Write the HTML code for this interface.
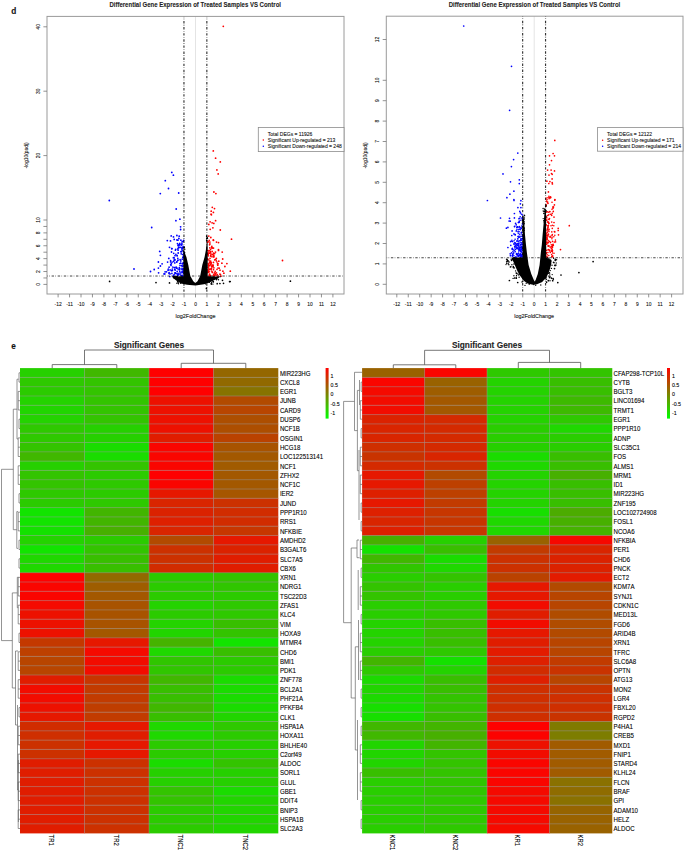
<!DOCTYPE html><html><head><meta charset="utf-8"><title>Figure</title>
<style>html,body{margin:0;padding:0;background:#fff;width:685px;height:852px;overflow:hidden}svg{display:block}text{font-family:"Liberation Sans",sans-serif}</style>
</head><body>
<svg width="685" height="852" viewBox="0 0 685 852">
<rect x="0" y="0" width="685" height="852" fill="#fff"/>
<text transform="translate(11.20,14.10) scale(0.9,1)" font-size="9.2" font-weight="bold" fill="#111" stroke="#111" stroke-width="0.18" stroke-opacity="0.6">d</text>
<text transform="translate(11.30,349.20) scale(0.9,1)" font-size="9.2" font-weight="bold" fill="#111" stroke="#111" stroke-width="0.18" stroke-opacity="0.6">e</text>
<g>
<text transform="translate(195.20,6.70) scale(0.835,1)" font-size="7.2" font-weight="bold" text-anchor="middle" fill="#1e1e1e" stroke="#1e1e1e" stroke-width="0.18" stroke-opacity="0.6">Differential Gene Expression of Treated Samples VS Control</text>
<line x1="195.5" y1="16.4" x2="195.5" y2="294" stroke="#e4e4e4" stroke-width="1"/>
<circle cx="176.9" cy="261.8" r="0.85" fill="#0000ff"/>
<circle cx="177.1" cy="255.7" r="0.85" fill="#0000ff"/>
<circle cx="184.3" cy="276.4" r="0.85" fill="#0000ff"/>
<circle cx="178.1" cy="250.2" r="0.85" fill="#0000ff"/>
<circle cx="171.5" cy="270.7" r="0.85" fill="#0000ff"/>
<circle cx="183.4" cy="270.7" r="0.85" fill="#0000ff"/>
<circle cx="183.9" cy="253.3" r="0.85" fill="#0000ff"/>
<circle cx="176.4" cy="268.1" r="0.85" fill="#0000ff"/>
<circle cx="183.4" cy="256.7" r="0.85" fill="#0000ff"/>
<circle cx="181.5" cy="245.1" r="0.85" fill="#0000ff"/>
<circle cx="182.3" cy="269.6" r="0.85" fill="#0000ff"/>
<circle cx="175.9" cy="254.3" r="0.85" fill="#0000ff"/>
<circle cx="175.7" cy="249.3" r="0.85" fill="#0000ff"/>
<circle cx="169.0" cy="273.4" r="0.85" fill="#0000ff"/>
<circle cx="182.0" cy="275.8" r="0.85" fill="#0000ff"/>
<circle cx="177.7" cy="260.6" r="0.85" fill="#0000ff"/>
<circle cx="177.9" cy="275.2" r="0.85" fill="#0000ff"/>
<circle cx="169.8" cy="276.6" r="0.85" fill="#0000ff"/>
<circle cx="182.2" cy="271.6" r="0.85" fill="#0000ff"/>
<circle cx="179.8" cy="271.3" r="0.85" fill="#0000ff"/>
<circle cx="184.2" cy="272.0" r="0.85" fill="#0000ff"/>
<circle cx="172.4" cy="270.4" r="0.85" fill="#0000ff"/>
<circle cx="182.3" cy="263.5" r="0.85" fill="#0000ff"/>
<circle cx="182.5" cy="272.0" r="0.85" fill="#0000ff"/>
<circle cx="175.4" cy="250.2" r="0.85" fill="#0000ff"/>
<circle cx="178.1" cy="274.7" r="0.85" fill="#0000ff"/>
<circle cx="183.9" cy="255.5" r="0.85" fill="#0000ff"/>
<circle cx="178.1" cy="260.0" r="0.85" fill="#0000ff"/>
<circle cx="178.2" cy="244.9" r="0.85" fill="#0000ff"/>
<circle cx="176.1" cy="267.2" r="0.85" fill="#0000ff"/>
<circle cx="179.9" cy="273.0" r="0.85" fill="#0000ff"/>
<circle cx="182.9" cy="265.9" r="0.85" fill="#0000ff"/>
<circle cx="180.0" cy="274.4" r="0.85" fill="#0000ff"/>
<circle cx="174.7" cy="267.7" r="0.85" fill="#0000ff"/>
<circle cx="180.0" cy="244.7" r="0.85" fill="#0000ff"/>
<circle cx="179.8" cy="243.4" r="0.85" fill="#0000ff"/>
<circle cx="177.7" cy="274.5" r="0.85" fill="#0000ff"/>
<circle cx="183.2" cy="241.3" r="0.85" fill="#0000ff"/>
<circle cx="181.0" cy="272.8" r="0.85" fill="#0000ff"/>
<circle cx="181.1" cy="275.4" r="0.85" fill="#0000ff"/>
<circle cx="173.7" cy="261.4" r="0.85" fill="#0000ff"/>
<circle cx="183.6" cy="257.9" r="0.85" fill="#0000ff"/>
<circle cx="180.1" cy="259.7" r="0.85" fill="#0000ff"/>
<circle cx="176.2" cy="273.7" r="0.85" fill="#0000ff"/>
<circle cx="170.6" cy="261.9" r="0.85" fill="#0000ff"/>
<circle cx="182.2" cy="250.2" r="0.85" fill="#0000ff"/>
<circle cx="181.9" cy="243.2" r="0.85" fill="#0000ff"/>
<circle cx="178.5" cy="248.0" r="0.85" fill="#0000ff"/>
<circle cx="182.4" cy="275.4" r="0.85" fill="#0000ff"/>
<circle cx="174.0" cy="260.0" r="0.85" fill="#0000ff"/>
<circle cx="184.1" cy="273.8" r="0.85" fill="#0000ff"/>
<circle cx="179.6" cy="269.4" r="0.85" fill="#0000ff"/>
<circle cx="182.1" cy="272.0" r="0.85" fill="#0000ff"/>
<circle cx="179.3" cy="267.5" r="0.85" fill="#0000ff"/>
<circle cx="176.6" cy="262.1" r="0.85" fill="#0000ff"/>
<circle cx="183.1" cy="263.7" r="0.85" fill="#0000ff"/>
<circle cx="164.0" cy="273.9" r="0.85" fill="#0000ff"/>
<circle cx="173.2" cy="275.6" r="0.85" fill="#0000ff"/>
<circle cx="177.2" cy="255.6" r="0.85" fill="#0000ff"/>
<circle cx="178.6" cy="247.2" r="0.85" fill="#0000ff"/>
<circle cx="182.0" cy="268.3" r="0.85" fill="#0000ff"/>
<circle cx="179.0" cy="245.3" r="0.85" fill="#0000ff"/>
<circle cx="183.9" cy="273.3" r="0.85" fill="#0000ff"/>
<circle cx="172.1" cy="262.1" r="0.85" fill="#0000ff"/>
<circle cx="176.3" cy="267.7" r="0.85" fill="#0000ff"/>
<circle cx="182.6" cy="254.5" r="0.85" fill="#0000ff"/>
<circle cx="165.1" cy="271.8" r="0.85" fill="#0000ff"/>
<circle cx="177.8" cy="248.9" r="0.85" fill="#0000ff"/>
<circle cx="172.3" cy="269.0" r="0.85" fill="#0000ff"/>
<circle cx="182.1" cy="247.6" r="0.85" fill="#0000ff"/>
<circle cx="181.8" cy="248.9" r="0.85" fill="#0000ff"/>
<circle cx="174.1" cy="267.5" r="0.85" fill="#0000ff"/>
<circle cx="178.1" cy="273.3" r="0.85" fill="#0000ff"/>
<circle cx="183.4" cy="262.7" r="0.85" fill="#0000ff"/>
<circle cx="178.1" cy="269.0" r="0.85" fill="#0000ff"/>
<circle cx="184.1" cy="252.5" r="0.85" fill="#0000ff"/>
<circle cx="183.7" cy="240.3" r="0.85" fill="#0000ff"/>
<circle cx="175.4" cy="273.1" r="0.85" fill="#0000ff"/>
<circle cx="174.7" cy="269.5" r="0.85" fill="#0000ff"/>
<circle cx="183.2" cy="268.9" r="0.85" fill="#0000ff"/>
<circle cx="174.2" cy="257.9" r="0.85" fill="#0000ff"/>
<circle cx="184.1" cy="263.4" r="0.85" fill="#0000ff"/>
<circle cx="180.0" cy="265.5" r="0.85" fill="#0000ff"/>
<circle cx="176.6" cy="276.3" r="0.85" fill="#0000ff"/>
<circle cx="171.9" cy="273.4" r="0.85" fill="#0000ff"/>
<circle cx="170.7" cy="264.5" r="0.85" fill="#0000ff"/>
<circle cx="180.7" cy="263.2" r="0.85" fill="#0000ff"/>
<circle cx="171.0" cy="265.4" r="0.85" fill="#0000ff"/>
<circle cx="175.0" cy="255.7" r="0.85" fill="#0000ff"/>
<circle cx="184.1" cy="268.9" r="0.85" fill="#0000ff"/>
<circle cx="171.4" cy="263.7" r="0.85" fill="#0000ff"/>
<circle cx="170.1" cy="269.9" r="0.85" fill="#0000ff"/>
<circle cx="180.8" cy="260.9" r="0.85" fill="#0000ff"/>
<circle cx="179.3" cy="269.7" r="0.85" fill="#0000ff"/>
<circle cx="179.8" cy="263.5" r="0.85" fill="#0000ff"/>
<circle cx="182.2" cy="259.2" r="0.85" fill="#0000ff"/>
<circle cx="170.0" cy="273.9" r="0.85" fill="#0000ff"/>
<circle cx="174.9" cy="259.6" r="0.85" fill="#0000ff"/>
<circle cx="182.4" cy="276.3" r="0.85" fill="#0000ff"/>
<circle cx="169.1" cy="272.6" r="0.85" fill="#0000ff"/>
<circle cx="175.2" cy="270.1" r="0.85" fill="#0000ff"/>
<circle cx="181.2" cy="253.8" r="0.85" fill="#0000ff"/>
<circle cx="175.1" cy="272.9" r="0.85" fill="#0000ff"/>
<circle cx="182.2" cy="266.3" r="0.85" fill="#0000ff"/>
<circle cx="173.7" cy="253.3" r="0.85" fill="#0000ff"/>
<circle cx="177.8" cy="258.3" r="0.85" fill="#0000ff"/>
<circle cx="177.2" cy="271.4" r="0.85" fill="#0000ff"/>
<circle cx="175.1" cy="272.9" r="0.85" fill="#0000ff"/>
<circle cx="182.1" cy="269.5" r="0.85" fill="#0000ff"/>
<circle cx="170.6" cy="260.6" r="0.85" fill="#0000ff"/>
<circle cx="182.7" cy="272.6" r="0.85" fill="#0000ff"/>
<circle cx="180.8" cy="251.7" r="0.85" fill="#0000ff"/>
<circle cx="181.5" cy="265.5" r="0.85" fill="#0000ff"/>
<circle cx="177.8" cy="274.2" r="0.85" fill="#0000ff"/>
<circle cx="178.1" cy="245.6" r="0.85" fill="#0000ff"/>
<circle cx="182.7" cy="263.7" r="0.85" fill="#0000ff"/>
<circle cx="168.3" cy="269.0" r="0.85" fill="#0000ff"/>
<circle cx="169.1" cy="267.2" r="0.85" fill="#0000ff"/>
<circle cx="182.1" cy="276.1" r="0.85" fill="#0000ff"/>
<circle cx="172.8" cy="267.0" r="0.85" fill="#0000ff"/>
<circle cx="182.8" cy="257.3" r="0.85" fill="#0000ff"/>
<circle cx="174.8" cy="262.9" r="0.85" fill="#0000ff"/>
<circle cx="177.0" cy="268.2" r="0.85" fill="#0000ff"/>
<circle cx="174.1" cy="274.7" r="0.85" fill="#0000ff"/>
<circle cx="179.8" cy="268.5" r="0.85" fill="#0000ff"/>
<circle cx="209.9" cy="243.9" r="0.85" fill="#ff0000"/>
<circle cx="211.2" cy="268.8" r="0.85" fill="#ff0000"/>
<circle cx="216.4" cy="258.3" r="0.85" fill="#ff0000"/>
<circle cx="209.8" cy="247.8" r="0.85" fill="#ff0000"/>
<circle cx="208.2" cy="253.9" r="0.85" fill="#ff0000"/>
<circle cx="210.5" cy="275.5" r="0.85" fill="#ff0000"/>
<circle cx="209.4" cy="253.2" r="0.85" fill="#ff0000"/>
<circle cx="210.5" cy="251.4" r="0.85" fill="#ff0000"/>
<circle cx="210.5" cy="256.1" r="0.85" fill="#ff0000"/>
<circle cx="208.4" cy="264.7" r="0.85" fill="#ff0000"/>
<circle cx="209.6" cy="274.2" r="0.85" fill="#ff0000"/>
<circle cx="207.6" cy="250.4" r="0.85" fill="#ff0000"/>
<circle cx="208.5" cy="272.1" r="0.85" fill="#ff0000"/>
<circle cx="209.5" cy="261.0" r="0.85" fill="#ff0000"/>
<circle cx="209.3" cy="265.3" r="0.85" fill="#ff0000"/>
<circle cx="218.0" cy="263.7" r="0.85" fill="#ff0000"/>
<circle cx="210.6" cy="249.3" r="0.85" fill="#ff0000"/>
<circle cx="210.7" cy="262.4" r="0.85" fill="#ff0000"/>
<circle cx="213.6" cy="253.1" r="0.85" fill="#ff0000"/>
<circle cx="207.6" cy="253.1" r="0.85" fill="#ff0000"/>
<circle cx="208.2" cy="253.6" r="0.85" fill="#ff0000"/>
<circle cx="212.1" cy="247.8" r="0.85" fill="#ff0000"/>
<circle cx="212.4" cy="272.4" r="0.85" fill="#ff0000"/>
<circle cx="211.1" cy="263.8" r="0.85" fill="#ff0000"/>
<circle cx="213.3" cy="254.0" r="0.85" fill="#ff0000"/>
<circle cx="210.7" cy="264.3" r="0.85" fill="#ff0000"/>
<circle cx="207.3" cy="259.0" r="0.85" fill="#ff0000"/>
<circle cx="212.4" cy="272.2" r="0.85" fill="#ff0000"/>
<circle cx="209.2" cy="240.4" r="0.85" fill="#ff0000"/>
<circle cx="208.8" cy="265.2" r="0.85" fill="#ff0000"/>
<circle cx="213.9" cy="267.8" r="0.85" fill="#ff0000"/>
<circle cx="211.0" cy="265.6" r="0.85" fill="#ff0000"/>
<circle cx="213.5" cy="262.4" r="0.85" fill="#ff0000"/>
<circle cx="221.0" cy="276.2" r="0.85" fill="#ff0000"/>
<circle cx="209.1" cy="250.7" r="0.85" fill="#ff0000"/>
<circle cx="209.5" cy="244.8" r="0.85" fill="#ff0000"/>
<circle cx="209.1" cy="250.5" r="0.85" fill="#ff0000"/>
<circle cx="212.7" cy="248.0" r="0.85" fill="#ff0000"/>
<circle cx="208.2" cy="272.5" r="0.85" fill="#ff0000"/>
<circle cx="217.0" cy="262.0" r="0.85" fill="#ff0000"/>
<circle cx="213.2" cy="265.2" r="0.85" fill="#ff0000"/>
<circle cx="210.6" cy="253.0" r="0.85" fill="#ff0000"/>
<circle cx="217.0" cy="269.3" r="0.85" fill="#ff0000"/>
<circle cx="212.2" cy="266.6" r="0.85" fill="#ff0000"/>
<circle cx="209.9" cy="242.1" r="0.85" fill="#ff0000"/>
<circle cx="212.4" cy="254.6" r="0.85" fill="#ff0000"/>
<circle cx="214.7" cy="253.6" r="0.85" fill="#ff0000"/>
<circle cx="215.2" cy="274.8" r="0.85" fill="#ff0000"/>
<circle cx="208.9" cy="276.1" r="0.85" fill="#ff0000"/>
<circle cx="217.3" cy="274.6" r="0.85" fill="#ff0000"/>
<circle cx="209.5" cy="262.5" r="0.85" fill="#ff0000"/>
<circle cx="214.7" cy="259.9" r="0.85" fill="#ff0000"/>
<circle cx="210.7" cy="261.2" r="0.85" fill="#ff0000"/>
<circle cx="218.1" cy="276.2" r="0.85" fill="#ff0000"/>
<circle cx="208.3" cy="271.6" r="0.85" fill="#ff0000"/>
<circle cx="211.0" cy="269.2" r="0.85" fill="#ff0000"/>
<circle cx="215.2" cy="271.4" r="0.85" fill="#ff0000"/>
<circle cx="211.4" cy="262.8" r="0.85" fill="#ff0000"/>
<circle cx="220.0" cy="270.2" r="0.85" fill="#ff0000"/>
<circle cx="216.4" cy="272.8" r="0.85" fill="#ff0000"/>
<circle cx="210.2" cy="276.4" r="0.85" fill="#ff0000"/>
<circle cx="213.5" cy="269.7" r="0.85" fill="#ff0000"/>
<circle cx="212.4" cy="265.2" r="0.85" fill="#ff0000"/>
<circle cx="211.5" cy="271.0" r="0.85" fill="#ff0000"/>
<circle cx="214.0" cy="274.0" r="0.85" fill="#ff0000"/>
<circle cx="208.2" cy="254.2" r="0.85" fill="#ff0000"/>
<circle cx="213.8" cy="274.8" r="0.85" fill="#ff0000"/>
<circle cx="217.5" cy="263.9" r="0.85" fill="#ff0000"/>
<circle cx="211.0" cy="254.2" r="0.85" fill="#ff0000"/>
<circle cx="208.6" cy="252.0" r="0.85" fill="#ff0000"/>
<circle cx="220.5" cy="274.7" r="0.85" fill="#ff0000"/>
<circle cx="208.3" cy="255.8" r="0.85" fill="#ff0000"/>
<circle cx="210.4" cy="252.3" r="0.85" fill="#ff0000"/>
<circle cx="213.1" cy="266.6" r="0.85" fill="#ff0000"/>
<circle cx="209.8" cy="263.0" r="0.85" fill="#ff0000"/>
<circle cx="218.0" cy="268.0" r="0.85" fill="#ff0000"/>
<circle cx="208.9" cy="268.5" r="0.85" fill="#ff0000"/>
<circle cx="211.6" cy="268.0" r="0.85" fill="#ff0000"/>
<circle cx="209.6" cy="275.5" r="0.85" fill="#ff0000"/>
<circle cx="209.6" cy="269.6" r="0.85" fill="#ff0000"/>
<circle cx="207.7" cy="242.3" r="0.85" fill="#ff0000"/>
<circle cx="208.0" cy="254.1" r="0.85" fill="#ff0000"/>
<circle cx="214.7" cy="272.9" r="0.85" fill="#ff0000"/>
<circle cx="211.7" cy="266.5" r="0.85" fill="#ff0000"/>
<circle cx="208.0" cy="270.3" r="0.85" fill="#ff0000"/>
<circle cx="211.9" cy="256.7" r="0.85" fill="#ff0000"/>
<circle cx="213.3" cy="275.3" r="0.85" fill="#ff0000"/>
<circle cx="216.0" cy="275.1" r="0.85" fill="#ff0000"/>
<circle cx="216.3" cy="260.8" r="0.85" fill="#ff0000"/>
<circle cx="208.1" cy="241.6" r="0.85" fill="#ff0000"/>
<circle cx="211.3" cy="268.7" r="0.85" fill="#ff0000"/>
<circle cx="208.1" cy="267.5" r="0.85" fill="#ff0000"/>
<circle cx="215.5" cy="273.6" r="0.85" fill="#ff0000"/>
<circle cx="209.1" cy="271.7" r="0.85" fill="#ff0000"/>
<circle cx="207.8" cy="254.7" r="0.85" fill="#ff0000"/>
<circle cx="208.8" cy="266.7" r="0.85" fill="#ff0000"/>
<circle cx="214.4" cy="275.9" r="0.85" fill="#ff0000"/>
<circle cx="208.2" cy="269.8" r="0.85" fill="#ff0000"/>
<circle cx="214.0" cy="256.8" r="0.85" fill="#ff0000"/>
<circle cx="215.7" cy="259.3" r="0.85" fill="#ff0000"/>
<circle cx="209.5" cy="274.7" r="0.85" fill="#ff0000"/>
<circle cx="207.6" cy="258.7" r="0.85" fill="#ff0000"/>
<circle cx="211.6" cy="247.8" r="0.85" fill="#ff0000"/>
<circle cx="210.7" cy="255.5" r="0.85" fill="#ff0000"/>
<circle cx="208.8" cy="259.8" r="0.85" fill="#ff0000"/>
<circle cx="208.2" cy="263.7" r="0.85" fill="#ff0000"/>
<circle cx="210.0" cy="258.3" r="0.85" fill="#ff0000"/>
<circle cx="213.4" cy="256.8" r="0.85" fill="#ff0000"/>
<circle cx="219.9" cy="274.1" r="0.85" fill="#ff0000"/>
<circle cx="212.2" cy="251.4" r="0.85" fill="#ff0000"/>
<polygon points="183.4,252.5 184.6,252.6 186.4,257.0 188.3,265.0 190.3,275.9 193.3,281.3 195.3,283.0 197.5,281.3 200.2,275.9 202.3,265.0 204.6,257.0 205.9,250.0 206.6,243.0 207.6,243.0 207.7,276.3 213.0,276.4 219.5,276.6 218.5,278.2 214.0,280.3 209.0,282.8 204.0,284.3 195.5,285.4 187.0,284.8 181.0,283.6 176.2,280.6 172.8,277.8 172.6,276.4 183.4,276.3" fill="#000"/>
<circle cx="176.6" cy="276.6" r="0.7" fill="#000"/>
<circle cx="175.5" cy="277.5" r="0.7" fill="#000"/>
<circle cx="174.0" cy="278.0" r="0.7" fill="#000"/>
<circle cx="174.7" cy="276.6" r="0.7" fill="#000"/>
<circle cx="177.3" cy="276.4" r="0.7" fill="#000"/>
<circle cx="172.9" cy="276.6" r="0.7" fill="#000"/>
<circle cx="174.9" cy="278.3" r="0.7" fill="#000"/>
<circle cx="174.0" cy="276.6" r="0.7" fill="#000"/>
<circle cx="175.9" cy="276.6" r="0.7" fill="#000"/>
<circle cx="175.1" cy="276.6" r="0.7" fill="#000"/>
<circle cx="177.3" cy="276.4" r="0.7" fill="#000"/>
<circle cx="173.4" cy="276.8" r="0.7" fill="#000"/>
<circle cx="178.3" cy="282.9" r="0.7" fill="#000"/>
<circle cx="180.7" cy="283.2" r="0.7" fill="#000"/>
<circle cx="179.8" cy="279.9" r="0.7" fill="#000"/>
<circle cx="181.3" cy="280.6" r="0.7" fill="#000"/>
<circle cx="177.5" cy="281.4" r="0.7" fill="#000"/>
<circle cx="182.9" cy="281.2" r="0.7" fill="#000"/>
<circle cx="178.5" cy="283.8" r="0.7" fill="#000"/>
<circle cx="182.9" cy="281.3" r="0.7" fill="#000"/>
<circle cx="176.9" cy="283.2" r="0.7" fill="#000"/>
<circle cx="181.5" cy="281.1" r="0.7" fill="#000"/>
<circle cx="181.5" cy="281.3" r="0.7" fill="#000"/>
<circle cx="178.0" cy="282.3" r="0.7" fill="#000"/>
<circle cx="211.7" cy="282.5" r="0.7" fill="#000"/>
<circle cx="212.4" cy="281.0" r="0.7" fill="#000"/>
<circle cx="209.5" cy="282.2" r="0.7" fill="#000"/>
<circle cx="205.6" cy="283.9" r="0.7" fill="#000"/>
<circle cx="206.3" cy="281.7" r="0.7" fill="#000"/>
<circle cx="212.9" cy="284.1" r="0.7" fill="#000"/>
<circle cx="213.4" cy="282.1" r="0.7" fill="#000"/>
<circle cx="213.4" cy="281.5" r="0.7" fill="#000"/>
<circle cx="211.4" cy="284.0" r="0.7" fill="#000"/>
<circle cx="206.7" cy="281.4" r="0.7" fill="#000"/>
<circle cx="211.1" cy="283.8" r="0.7" fill="#000"/>
<circle cx="211.5" cy="284.0" r="0.7" fill="#000"/>
<circle cx="215.9" cy="277.8" r="0.7" fill="#000"/>
<circle cx="213.0" cy="277.5" r="0.7" fill="#000"/>
<circle cx="220.0" cy="276.8" r="0.7" fill="#000"/>
<circle cx="213.6" cy="277.7" r="0.7" fill="#000"/>
<circle cx="212.4" cy="277.6" r="0.7" fill="#000"/>
<circle cx="213.6" cy="276.9" r="0.7" fill="#000"/>
<circle cx="216.5" cy="278.4" r="0.7" fill="#000"/>
<circle cx="216.8" cy="279.2" r="0.7" fill="#000"/>
<circle cx="216.5" cy="279.8" r="0.7" fill="#000"/>
<circle cx="212.7" cy="277.3" r="0.7" fill="#000"/>
<circle cx="212.7" cy="277.6" r="0.7" fill="#000"/>
<circle cx="218.5" cy="279.7" r="0.7" fill="#000"/>
<circle cx="184.0" cy="247.1" r="0.7" fill="#000"/>
<circle cx="183.7" cy="250.0" r="0.7" fill="#000"/>
<circle cx="183.7" cy="251.5" r="0.7" fill="#000"/>
<circle cx="184.8" cy="249.2" r="0.7" fill="#000"/>
<circle cx="184.2" cy="251.9" r="0.7" fill="#000"/>
<circle cx="183.9" cy="247.3" r="0.7" fill="#000"/>
<circle cx="184.7" cy="252.8" r="0.7" fill="#000"/>
<circle cx="183.2" cy="251.3" r="0.7" fill="#000"/>
<circle cx="183.8" cy="246.4" r="0.7" fill="#000"/>
<circle cx="183.5" cy="247.2" r="0.7" fill="#000"/>
<circle cx="184.4" cy="247.5" r="0.7" fill="#000"/>
<circle cx="183.2" cy="247.5" r="0.7" fill="#000"/>
<circle cx="207.5" cy="238.5" r="0.7" fill="#000"/>
<circle cx="207.2" cy="238.3" r="0.7" fill="#000"/>
<circle cx="206.5" cy="236.1" r="0.7" fill="#000"/>
<circle cx="206.7" cy="236.2" r="0.7" fill="#000"/>
<circle cx="206.6" cy="239.1" r="0.7" fill="#000"/>
<circle cx="206.8" cy="238.4" r="0.7" fill="#000"/>
<circle cx="207.2" cy="237.6" r="0.7" fill="#000"/>
<circle cx="206.8" cy="240.4" r="0.7" fill="#000"/>
<circle cx="207.1" cy="238.1" r="0.7" fill="#000"/>
<circle cx="207.1" cy="238.3" r="0.7" fill="#000"/>
<circle cx="206.7" cy="240.6" r="0.7" fill="#000"/>
<circle cx="206.6" cy="240.7" r="0.7" fill="#000"/>
<circle cx="171.8" cy="172.4" r="0.9" fill="#0000ff"/>
<circle cx="173.4" cy="175.2" r="0.9" fill="#0000ff"/>
<circle cx="165.3" cy="180.7" r="0.9" fill="#0000ff"/>
<circle cx="168.5" cy="188.5" r="0.9" fill="#0000ff"/>
<circle cx="160.3" cy="193.6" r="0.9" fill="#0000ff"/>
<circle cx="178.7" cy="193.0" r="0.9" fill="#0000ff"/>
<circle cx="176.2" cy="209.0" r="0.9" fill="#0000ff"/>
<circle cx="179.9" cy="219.2" r="0.9" fill="#0000ff"/>
<circle cx="175.9" cy="220.7" r="0.9" fill="#0000ff"/>
<circle cx="151.7" cy="227.5" r="0.9" fill="#0000ff"/>
<circle cx="180.6" cy="226.8" r="0.9" fill="#0000ff"/>
<circle cx="180.6" cy="229.5" r="0.9" fill="#0000ff"/>
<circle cx="171.2" cy="235.9" r="0.9" fill="#0000ff"/>
<circle cx="173.5" cy="236.9" r="0.9" fill="#0000ff"/>
<circle cx="176.9" cy="235.5" r="0.9" fill="#0000ff"/>
<circle cx="179.2" cy="236.2" r="0.9" fill="#0000ff"/>
<circle cx="178.9" cy="238.5" r="0.9" fill="#0000ff"/>
<circle cx="174.2" cy="239.4" r="0.9" fill="#0000ff"/>
<circle cx="176.9" cy="239.9" r="0.9" fill="#0000ff"/>
<circle cx="177.9" cy="240.2" r="0.9" fill="#0000ff"/>
<circle cx="180.9" cy="240.2" r="0.9" fill="#0000ff"/>
<circle cx="167.3" cy="240.6" r="0.9" fill="#0000ff"/>
<circle cx="170.5" cy="240.9" r="0.9" fill="#0000ff"/>
<circle cx="182.2" cy="241.6" r="0.9" fill="#0000ff"/>
<circle cx="177.5" cy="243.6" r="0.9" fill="#0000ff"/>
<circle cx="179.6" cy="244.6" r="0.9" fill="#0000ff"/>
<circle cx="181.9" cy="244.6" r="0.9" fill="#0000ff"/>
<circle cx="169.5" cy="247.3" r="0.9" fill="#0000ff"/>
<circle cx="171.8" cy="248.6" r="0.9" fill="#0000ff"/>
<circle cx="179.9" cy="247.3" r="0.9" fill="#0000ff"/>
<circle cx="180.9" cy="247.3" r="0.9" fill="#0000ff"/>
<circle cx="183.2" cy="246.6" r="0.9" fill="#0000ff"/>
<circle cx="182.6" cy="248.3" r="0.9" fill="#0000ff"/>
<circle cx="171.8" cy="248.7" r="0.9" fill="#0000ff"/>
<circle cx="159.7" cy="251.4" r="0.9" fill="#0000ff"/>
<circle cx="171.5" cy="252.0" r="0.9" fill="#0000ff"/>
<circle cx="160.4" cy="255.3" r="0.9" fill="#0000ff"/>
<circle cx="178.2" cy="253.0" r="0.9" fill="#0000ff"/>
<circle cx="181.6" cy="251.7" r="0.9" fill="#0000ff"/>
<circle cx="168.8" cy="258.4" r="0.9" fill="#0000ff"/>
<circle cx="173.4" cy="257.7" r="0.9" fill="#0000ff"/>
<circle cx="174.8" cy="260.1" r="0.9" fill="#0000ff"/>
<circle cx="158.4" cy="262.0" r="0.9" fill="#0000ff"/>
<circle cx="167.6" cy="262.1" r="0.9" fill="#0000ff"/>
<circle cx="162.1" cy="263.8" r="0.9" fill="#0000ff"/>
<circle cx="160.4" cy="266.0" r="0.9" fill="#0000ff"/>
<circle cx="158.4" cy="268.1" r="0.9" fill="#0000ff"/>
<circle cx="154.2" cy="269.5" r="0.9" fill="#0000ff"/>
<circle cx="158.6" cy="272.8" r="0.9" fill="#0000ff"/>
<circle cx="168.1" cy="270.2" r="0.9" fill="#0000ff"/>
<circle cx="166.5" cy="271.8" r="0.9" fill="#0000ff"/>
<circle cx="164.8" cy="273.9" r="0.9" fill="#0000ff"/>
<circle cx="134.0" cy="269.0" r="0.9" fill="#0000ff"/>
<circle cx="109.3" cy="200.5" r="0.9" fill="#0000ff"/>
<circle cx="150.5" cy="271.5" r="0.9" fill="#0000ff"/>
<circle cx="223.3" cy="26.3" r="0.9" fill="#ff0000"/>
<circle cx="213.3" cy="150.9" r="0.9" fill="#ff0000"/>
<circle cx="215.6" cy="158.2" r="0.9" fill="#ff0000"/>
<circle cx="220.3" cy="161.9" r="0.9" fill="#ff0000"/>
<circle cx="216.9" cy="169.9" r="0.9" fill="#ff0000"/>
<circle cx="218.2" cy="173.9" r="0.9" fill="#ff0000"/>
<circle cx="213.9" cy="192.0" r="0.9" fill="#ff0000"/>
<circle cx="215.9" cy="193.6" r="0.9" fill="#ff0000"/>
<circle cx="212.3" cy="207.3" r="0.9" fill="#ff0000"/>
<circle cx="214.5" cy="208.6" r="0.9" fill="#ff0000"/>
<circle cx="211.2" cy="211.2" r="0.9" fill="#ff0000"/>
<circle cx="213.4" cy="212.4" r="0.9" fill="#ff0000"/>
<circle cx="211.1" cy="214.2" r="0.9" fill="#ff0000"/>
<circle cx="211.4" cy="214.8" r="0.9" fill="#ff0000"/>
<circle cx="215.6" cy="220.7" r="0.9" fill="#ff0000"/>
<circle cx="210.1" cy="221.8" r="0.9" fill="#ff0000"/>
<circle cx="212.1" cy="222.8" r="0.9" fill="#ff0000"/>
<circle cx="213.8" cy="223.4" r="0.9" fill="#ff0000"/>
<circle cx="208.8" cy="224.4" r="0.9" fill="#ff0000"/>
<circle cx="212.9" cy="227.8" r="0.9" fill="#ff0000"/>
<circle cx="210.2" cy="229.3" r="0.9" fill="#ff0000"/>
<circle cx="220.3" cy="230.0" r="0.9" fill="#ff0000"/>
<circle cx="208.8" cy="236.1" r="0.9" fill="#ff0000"/>
<circle cx="210.8" cy="237.5" r="0.9" fill="#ff0000"/>
<circle cx="213.3" cy="239.9" r="0.9" fill="#ff0000"/>
<circle cx="231.5" cy="239.2" r="0.9" fill="#ff0000"/>
<circle cx="216.5" cy="242.1" r="0.9" fill="#ff0000"/>
<circle cx="218.5" cy="242.6" r="0.9" fill="#ff0000"/>
<circle cx="218.5" cy="249.6" r="0.9" fill="#ff0000"/>
<circle cx="213.5" cy="240.3" r="0.9" fill="#ff0000"/>
<circle cx="211.8" cy="246.4" r="0.9" fill="#ff0000"/>
<circle cx="213.5" cy="248.1" r="0.9" fill="#ff0000"/>
<circle cx="218.5" cy="250.4" r="0.9" fill="#ff0000"/>
<circle cx="222.2" cy="252.1" r="0.9" fill="#ff0000"/>
<circle cx="215.5" cy="252.1" r="0.9" fill="#ff0000"/>
<circle cx="213.8" cy="255.4" r="0.9" fill="#ff0000"/>
<circle cx="222.7" cy="259.0" r="0.9" fill="#ff0000"/>
<circle cx="218.8" cy="261.2" r="0.9" fill="#ff0000"/>
<circle cx="221.9" cy="263.2" r="0.9" fill="#ff0000"/>
<circle cx="226.9" cy="263.6" r="0.9" fill="#ff0000"/>
<circle cx="217.8" cy="265.2" r="0.9" fill="#ff0000"/>
<circle cx="224.9" cy="266.5" r="0.9" fill="#ff0000"/>
<circle cx="219.2" cy="268.2" r="0.9" fill="#ff0000"/>
<circle cx="230.3" cy="271.2" r="0.9" fill="#ff0000"/>
<circle cx="222.9" cy="271.2" r="0.9" fill="#ff0000"/>
<circle cx="223.9" cy="273.2" r="0.9" fill="#ff0000"/>
<circle cx="282.5" cy="260.5" r="0.9" fill="#ff0000"/>
<circle cx="156.0" cy="282.6" r="0.85" fill="#000"/>
<circle cx="169.5" cy="282.9" r="0.85" fill="#000"/>
<circle cx="222.5" cy="280.3" r="0.85" fill="#000"/>
<circle cx="229.6" cy="281.6" r="0.85" fill="#000"/>
<circle cx="217.2" cy="283.7" r="0.85" fill="#000"/>
<circle cx="219.9" cy="283.5" r="0.85" fill="#000"/>
<circle cx="223.5" cy="283.3" r="0.85" fill="#000"/>
<circle cx="206.4" cy="288.4" r="0.85" fill="#000"/>
<circle cx="109.6" cy="281.4" r="0.85" fill="#000"/>
<circle cx="290.4" cy="281.2" r="0.85" fill="#000"/>
<circle cx="230.2" cy="281.5" r="0.85" fill="#000"/>
<line x1="183.95" y1="16.4" x2="183.95" y2="294" stroke="#000" stroke-opacity="0.8" stroke-width="1.15" stroke-dasharray="2.4 1.4 0.6 1.7" stroke-dashoffset="1.5"/>
<line x1="206.85" y1="16.4" x2="206.85" y2="294" stroke="#000" stroke-opacity="0.8" stroke-width="1.15" stroke-dasharray="2.4 1.4 0.6 1.7" stroke-dashoffset="1.5"/>
<line x1="47" y1="276.02" x2="344" y2="276.02" stroke="#000" stroke-opacity="0.72" stroke-width="1" stroke-dasharray="2.4 1.4 0.6 1.7" stroke-dashoffset="1.5"/>
<rect x="47" y="16.4" width="297.00" height="277.60" fill="none" stroke="#9a9a9a" stroke-width="1"/>
<line x1="43.4" y1="284.40" x2="47" y2="284.40" stroke="#777" stroke-width="0.8"/>
<line x1="43.4" y1="277.96" x2="47" y2="277.96" stroke="#777" stroke-width="0.8"/>
<line x1="43.4" y1="271.52" x2="47" y2="271.52" stroke="#777" stroke-width="0.8"/>
<line x1="43.4" y1="265.08" x2="47" y2="265.08" stroke="#777" stroke-width="0.8"/>
<line x1="43.4" y1="258.64" x2="47" y2="258.64" stroke="#777" stroke-width="0.8"/>
<line x1="43.4" y1="252.20" x2="47" y2="252.20" stroke="#777" stroke-width="0.8"/>
<line x1="43.4" y1="245.76" x2="47" y2="245.76" stroke="#777" stroke-width="0.8"/>
<line x1="43.4" y1="239.32" x2="47" y2="239.32" stroke="#777" stroke-width="0.8"/>
<line x1="43.4" y1="232.88" x2="47" y2="232.88" stroke="#777" stroke-width="0.8"/>
<line x1="43.4" y1="226.44" x2="47" y2="226.44" stroke="#777" stroke-width="0.8"/>
<line x1="43.4" y1="220.00" x2="47" y2="220.00" stroke="#777" stroke-width="0.8"/>
<line x1="43.4" y1="155.60" x2="47" y2="155.60" stroke="#777" stroke-width="0.8"/>
<line x1="43.4" y1="91.20" x2="47" y2="91.20" stroke="#777" stroke-width="0.8"/>
<line x1="43.4" y1="26.80" x2="47" y2="26.80" stroke="#777" stroke-width="0.8"/>
<text transform="translate(39.90,284.40) rotate(-90) scale(0.85,1)" font-size="5.8" text-anchor="middle" fill="#111" stroke="#111" stroke-width="0.18" stroke-opacity="0.6">0</text>
<text transform="translate(39.90,271.52) rotate(-90) scale(0.85,1)" font-size="5.8" text-anchor="middle" fill="#111" stroke="#111" stroke-width="0.18" stroke-opacity="0.6">2</text>
<text transform="translate(39.90,258.64) rotate(-90) scale(0.85,1)" font-size="5.8" text-anchor="middle" fill="#111" stroke="#111" stroke-width="0.18" stroke-opacity="0.6">4</text>
<text transform="translate(39.90,245.76) rotate(-90) scale(0.85,1)" font-size="5.8" text-anchor="middle" fill="#111" stroke="#111" stroke-width="0.18" stroke-opacity="0.6">6</text>
<text transform="translate(39.90,232.88) rotate(-90) scale(0.85,1)" font-size="5.8" text-anchor="middle" fill="#111" stroke="#111" stroke-width="0.18" stroke-opacity="0.6">8</text>
<text transform="translate(39.90,220.00) rotate(-90) scale(0.85,1)" font-size="5.8" text-anchor="middle" fill="#111" stroke="#111" stroke-width="0.18" stroke-opacity="0.6">10</text>
<text transform="translate(39.90,155.60) rotate(-90) scale(0.85,1)" font-size="5.8" text-anchor="middle" fill="#111" stroke="#111" stroke-width="0.18" stroke-opacity="0.6">20</text>
<text transform="translate(39.90,91.20) rotate(-90) scale(0.85,1)" font-size="5.8" text-anchor="middle" fill="#111" stroke="#111" stroke-width="0.18" stroke-opacity="0.6">30</text>
<text transform="translate(39.90,26.80) rotate(-90) scale(0.85,1)" font-size="5.8" text-anchor="middle" fill="#111" stroke="#111" stroke-width="0.18" stroke-opacity="0.6">40</text>
<line x1="58.10" y1="294" x2="58.10" y2="297.4" stroke="#777" stroke-width="0.8"/>
<text transform="translate(58.10,306.00) scale(0.85,1)" font-size="5.8" text-anchor="middle" fill="#111" stroke="#111" stroke-width="0.18" stroke-opacity="0.6">-12</text>
<line x1="69.55" y1="294" x2="69.55" y2="297.4" stroke="#777" stroke-width="0.8"/>
<text transform="translate(69.55,306.00) scale(0.85,1)" font-size="5.8" text-anchor="middle" fill="#111" stroke="#111" stroke-width="0.18" stroke-opacity="0.6">-11</text>
<line x1="81.00" y1="294" x2="81.00" y2="297.4" stroke="#777" stroke-width="0.8"/>
<text transform="translate(81.00,306.00) scale(0.85,1)" font-size="5.8" text-anchor="middle" fill="#111" stroke="#111" stroke-width="0.18" stroke-opacity="0.6">-10</text>
<line x1="92.45" y1="294" x2="92.45" y2="297.4" stroke="#777" stroke-width="0.8"/>
<text transform="translate(92.45,306.00) scale(0.85,1)" font-size="5.8" text-anchor="middle" fill="#111" stroke="#111" stroke-width="0.18" stroke-opacity="0.6">-9</text>
<line x1="103.90" y1="294" x2="103.90" y2="297.4" stroke="#777" stroke-width="0.8"/>
<text transform="translate(103.90,306.00) scale(0.85,1)" font-size="5.8" text-anchor="middle" fill="#111" stroke="#111" stroke-width="0.18" stroke-opacity="0.6">-8</text>
<line x1="115.35" y1="294" x2="115.35" y2="297.4" stroke="#777" stroke-width="0.8"/>
<text transform="translate(115.35,306.00) scale(0.85,1)" font-size="5.8" text-anchor="middle" fill="#111" stroke="#111" stroke-width="0.18" stroke-opacity="0.6">-7</text>
<line x1="126.80" y1="294" x2="126.80" y2="297.4" stroke="#777" stroke-width="0.8"/>
<text transform="translate(126.80,306.00) scale(0.85,1)" font-size="5.8" text-anchor="middle" fill="#111" stroke="#111" stroke-width="0.18" stroke-opacity="0.6">-6</text>
<line x1="138.25" y1="294" x2="138.25" y2="297.4" stroke="#777" stroke-width="0.8"/>
<text transform="translate(138.25,306.00) scale(0.85,1)" font-size="5.8" text-anchor="middle" fill="#111" stroke="#111" stroke-width="0.18" stroke-opacity="0.6">-5</text>
<line x1="149.70" y1="294" x2="149.70" y2="297.4" stroke="#777" stroke-width="0.8"/>
<text transform="translate(149.70,306.00) scale(0.85,1)" font-size="5.8" text-anchor="middle" fill="#111" stroke="#111" stroke-width="0.18" stroke-opacity="0.6">-4</text>
<line x1="161.15" y1="294" x2="161.15" y2="297.4" stroke="#777" stroke-width="0.8"/>
<text transform="translate(161.15,306.00) scale(0.85,1)" font-size="5.8" text-anchor="middle" fill="#111" stroke="#111" stroke-width="0.18" stroke-opacity="0.6">-3</text>
<line x1="172.60" y1="294" x2="172.60" y2="297.4" stroke="#777" stroke-width="0.8"/>
<text transform="translate(172.60,306.00) scale(0.85,1)" font-size="5.8" text-anchor="middle" fill="#111" stroke="#111" stroke-width="0.18" stroke-opacity="0.6">-2</text>
<line x1="184.05" y1="294" x2="184.05" y2="297.4" stroke="#777" stroke-width="0.8"/>
<text transform="translate(184.05,306.00) scale(0.85,1)" font-size="5.8" text-anchor="middle" fill="#111" stroke="#111" stroke-width="0.18" stroke-opacity="0.6">-1</text>
<line x1="195.50" y1="294" x2="195.50" y2="297.4" stroke="#777" stroke-width="0.8"/>
<text transform="translate(195.50,306.00) scale(0.85,1)" font-size="5.8" text-anchor="middle" fill="#111" stroke="#111" stroke-width="0.18" stroke-opacity="0.6">0</text>
<line x1="206.95" y1="294" x2="206.95" y2="297.4" stroke="#777" stroke-width="0.8"/>
<text transform="translate(206.95,306.00) scale(0.85,1)" font-size="5.8" text-anchor="middle" fill="#111" stroke="#111" stroke-width="0.18" stroke-opacity="0.6">1</text>
<line x1="218.40" y1="294" x2="218.40" y2="297.4" stroke="#777" stroke-width="0.8"/>
<text transform="translate(218.40,306.00) scale(0.85,1)" font-size="5.8" text-anchor="middle" fill="#111" stroke="#111" stroke-width="0.18" stroke-opacity="0.6">2</text>
<line x1="229.85" y1="294" x2="229.85" y2="297.4" stroke="#777" stroke-width="0.8"/>
<text transform="translate(229.85,306.00) scale(0.85,1)" font-size="5.8" text-anchor="middle" fill="#111" stroke="#111" stroke-width="0.18" stroke-opacity="0.6">3</text>
<line x1="241.30" y1="294" x2="241.30" y2="297.4" stroke="#777" stroke-width="0.8"/>
<text transform="translate(241.30,306.00) scale(0.85,1)" font-size="5.8" text-anchor="middle" fill="#111" stroke="#111" stroke-width="0.18" stroke-opacity="0.6">4</text>
<line x1="252.75" y1="294" x2="252.75" y2="297.4" stroke="#777" stroke-width="0.8"/>
<text transform="translate(252.75,306.00) scale(0.85,1)" font-size="5.8" text-anchor="middle" fill="#111" stroke="#111" stroke-width="0.18" stroke-opacity="0.6">5</text>
<line x1="264.20" y1="294" x2="264.20" y2="297.4" stroke="#777" stroke-width="0.8"/>
<text transform="translate(264.20,306.00) scale(0.85,1)" font-size="5.8" text-anchor="middle" fill="#111" stroke="#111" stroke-width="0.18" stroke-opacity="0.6">6</text>
<line x1="275.65" y1="294" x2="275.65" y2="297.4" stroke="#777" stroke-width="0.8"/>
<text transform="translate(275.65,306.00) scale(0.85,1)" font-size="5.8" text-anchor="middle" fill="#111" stroke="#111" stroke-width="0.18" stroke-opacity="0.6">7</text>
<line x1="287.10" y1="294" x2="287.10" y2="297.4" stroke="#777" stroke-width="0.8"/>
<text transform="translate(287.10,306.00) scale(0.85,1)" font-size="5.8" text-anchor="middle" fill="#111" stroke="#111" stroke-width="0.18" stroke-opacity="0.6">8</text>
<line x1="298.55" y1="294" x2="298.55" y2="297.4" stroke="#777" stroke-width="0.8"/>
<text transform="translate(298.55,306.00) scale(0.85,1)" font-size="5.8" text-anchor="middle" fill="#111" stroke="#111" stroke-width="0.18" stroke-opacity="0.6">9</text>
<line x1="310.00" y1="294" x2="310.00" y2="297.4" stroke="#777" stroke-width="0.8"/>
<text transform="translate(310.00,306.00) scale(0.85,1)" font-size="5.8" text-anchor="middle" fill="#111" stroke="#111" stroke-width="0.18" stroke-opacity="0.6">10</text>
<line x1="321.45" y1="294" x2="321.45" y2="297.4" stroke="#777" stroke-width="0.8"/>
<text transform="translate(321.45,306.00) scale(0.85,1)" font-size="5.8" text-anchor="middle" fill="#111" stroke="#111" stroke-width="0.18" stroke-opacity="0.6">11</text>
<line x1="332.90" y1="294" x2="332.90" y2="297.4" stroke="#777" stroke-width="0.8"/>
<text transform="translate(332.90,306.00) scale(0.85,1)" font-size="5.8" text-anchor="middle" fill="#111" stroke="#111" stroke-width="0.18" stroke-opacity="0.6">12</text>
<text transform="translate(195.50,318.20) scale(0.94,1)" font-size="5.8" text-anchor="middle" fill="#111" stroke="#111" stroke-width="0.18" stroke-opacity="0.6">log2FoldChange</text>
<text transform="translate(28.00,155.40) rotate(-90) scale(0.85,1)" font-size="5.8" text-anchor="middle" fill="#111" stroke="#111" stroke-width="0.18" stroke-opacity="0.6">-log10(padj)</text>
<rect x="258.3" y="127.5" width="85.70" height="24.10" fill="#fff" stroke="#8c8c8c" stroke-width="0.8"/>
<text transform="translate(267.80,135.80) scale(0.85,1)" font-size="5.9" fill="#111" stroke="#111" stroke-width="0.18" stroke-opacity="0.6">Total DEGs = 11926</text>
<text transform="translate(267.80,141.90) scale(0.85,1)" font-size="5.9" fill="#111" stroke="#111" stroke-width="0.18" stroke-opacity="0.6">Significant Up-regulated = 213</text>
<circle cx="263.30" cy="140.10" r="0.75" fill="#f00"/>
<text transform="translate(267.80,148.00) scale(0.85,1)" font-size="5.9" fill="#111" stroke="#111" stroke-width="0.18" stroke-opacity="0.6">Significant Down-regulated = 248</text>
<circle cx="263.30" cy="146.20" r="0.75" fill="#00f"/>
</g>
<g>
<text transform="translate(534.50,6.70) scale(0.835,1)" font-size="7.2" font-weight="bold" text-anchor="middle" fill="#1e1e1e" stroke="#1e1e1e" stroke-width="0.18" stroke-opacity="0.6">Differential Gene Expression of Treated Samples VS Control</text>
<line x1="534.2" y1="16.2" x2="534.2" y2="294" stroke="#e4e4e4" stroke-width="1"/>
<circle cx="522.3" cy="218.4" r="0.8" fill="#0000ff"/>
<circle cx="523.0" cy="220.4" r="0.8" fill="#0000ff"/>
<circle cx="510.3" cy="255.8" r="0.8" fill="#0000ff"/>
<circle cx="516.4" cy="254.5" r="0.8" fill="#0000ff"/>
<circle cx="521.7" cy="244.3" r="0.8" fill="#0000ff"/>
<circle cx="521.0" cy="238.9" r="0.8" fill="#0000ff"/>
<circle cx="522.0" cy="247.3" r="0.8" fill="#0000ff"/>
<circle cx="515.8" cy="243.8" r="0.8" fill="#0000ff"/>
<circle cx="510.8" cy="255.6" r="0.8" fill="#0000ff"/>
<circle cx="519.4" cy="255.5" r="0.8" fill="#0000ff"/>
<circle cx="521.6" cy="226.0" r="0.8" fill="#0000ff"/>
<circle cx="521.8" cy="255.4" r="0.8" fill="#0000ff"/>
<circle cx="522.9" cy="245.9" r="0.8" fill="#0000ff"/>
<circle cx="518.5" cy="241.3" r="0.8" fill="#0000ff"/>
<circle cx="519.4" cy="249.4" r="0.8" fill="#0000ff"/>
<circle cx="517.0" cy="227.5" r="0.8" fill="#0000ff"/>
<circle cx="517.9" cy="231.8" r="0.8" fill="#0000ff"/>
<circle cx="520.8" cy="220.2" r="0.8" fill="#0000ff"/>
<circle cx="518.3" cy="233.2" r="0.8" fill="#0000ff"/>
<circle cx="520.8" cy="239.3" r="0.8" fill="#0000ff"/>
<circle cx="518.5" cy="253.1" r="0.8" fill="#0000ff"/>
<circle cx="517.3" cy="226.7" r="0.8" fill="#0000ff"/>
<circle cx="512.3" cy="249.1" r="0.8" fill="#0000ff"/>
<circle cx="514.1" cy="240.8" r="0.8" fill="#0000ff"/>
<circle cx="517.8" cy="248.8" r="0.8" fill="#0000ff"/>
<circle cx="519.3" cy="221.9" r="0.8" fill="#0000ff"/>
<circle cx="517.0" cy="240.7" r="0.8" fill="#0000ff"/>
<circle cx="521.7" cy="238.7" r="0.8" fill="#0000ff"/>
<circle cx="515.7" cy="249.5" r="0.8" fill="#0000ff"/>
<circle cx="520.8" cy="247.7" r="0.8" fill="#0000ff"/>
<circle cx="515.2" cy="243.1" r="0.8" fill="#0000ff"/>
<circle cx="512.4" cy="248.4" r="0.8" fill="#0000ff"/>
<circle cx="522.7" cy="238.5" r="0.8" fill="#0000ff"/>
<circle cx="518.3" cy="222.6" r="0.8" fill="#0000ff"/>
<circle cx="512.6" cy="241.6" r="0.8" fill="#0000ff"/>
<circle cx="513.9" cy="243.8" r="0.8" fill="#0000ff"/>
<circle cx="516.8" cy="227.3" r="0.8" fill="#0000ff"/>
<circle cx="517.9" cy="236.5" r="0.8" fill="#0000ff"/>
<circle cx="522.2" cy="253.9" r="0.8" fill="#0000ff"/>
<circle cx="520.6" cy="229.7" r="0.8" fill="#0000ff"/>
<circle cx="516.6" cy="248.2" r="0.8" fill="#0000ff"/>
<circle cx="511.2" cy="241.3" r="0.8" fill="#0000ff"/>
<circle cx="519.6" cy="240.8" r="0.8" fill="#0000ff"/>
<circle cx="517.5" cy="245.4" r="0.8" fill="#0000ff"/>
<circle cx="521.2" cy="234.0" r="0.8" fill="#0000ff"/>
<circle cx="519.1" cy="227.7" r="0.8" fill="#0000ff"/>
<circle cx="513.0" cy="253.5" r="0.8" fill="#0000ff"/>
<circle cx="522.3" cy="254.5" r="0.8" fill="#0000ff"/>
<circle cx="519.5" cy="234.2" r="0.8" fill="#0000ff"/>
<circle cx="517.7" cy="243.5" r="0.8" fill="#0000ff"/>
<circle cx="519.7" cy="229.2" r="0.8" fill="#0000ff"/>
<circle cx="513.4" cy="250.0" r="0.8" fill="#0000ff"/>
<circle cx="520.5" cy="251.3" r="0.8" fill="#0000ff"/>
<circle cx="522.4" cy="248.2" r="0.8" fill="#0000ff"/>
<circle cx="518.8" cy="246.7" r="0.8" fill="#0000ff"/>
<circle cx="512.7" cy="249.3" r="0.8" fill="#0000ff"/>
<circle cx="515.1" cy="247.5" r="0.8" fill="#0000ff"/>
<circle cx="517.8" cy="254.7" r="0.8" fill="#0000ff"/>
<circle cx="515.5" cy="243.2" r="0.8" fill="#0000ff"/>
<circle cx="522.8" cy="239.2" r="0.8" fill="#0000ff"/>
<circle cx="522.3" cy="244.2" r="0.8" fill="#0000ff"/>
<circle cx="518.9" cy="245.0" r="0.8" fill="#0000ff"/>
<circle cx="512.9" cy="251.6" r="0.8" fill="#0000ff"/>
<circle cx="518.6" cy="256.3" r="0.8" fill="#0000ff"/>
<circle cx="520.8" cy="256.9" r="0.8" fill="#0000ff"/>
<circle cx="519.8" cy="237.3" r="0.8" fill="#0000ff"/>
<circle cx="516.8" cy="254.1" r="0.8" fill="#0000ff"/>
<circle cx="518.8" cy="236.2" r="0.8" fill="#0000ff"/>
<circle cx="514.8" cy="246.2" r="0.8" fill="#0000ff"/>
<circle cx="515.1" cy="239.2" r="0.8" fill="#0000ff"/>
<circle cx="511.5" cy="252.9" r="0.8" fill="#0000ff"/>
<circle cx="522.8" cy="249.6" r="0.8" fill="#0000ff"/>
<circle cx="516.9" cy="229.2" r="0.8" fill="#0000ff"/>
<circle cx="517.1" cy="247.4" r="0.8" fill="#0000ff"/>
<circle cx="521.6" cy="256.5" r="0.8" fill="#0000ff"/>
<circle cx="522.5" cy="219.5" r="0.8" fill="#0000ff"/>
<circle cx="520.2" cy="216.7" r="0.8" fill="#0000ff"/>
<circle cx="517.8" cy="226.9" r="0.8" fill="#0000ff"/>
<circle cx="520.2" cy="250.3" r="0.8" fill="#0000ff"/>
<circle cx="521.3" cy="252.3" r="0.8" fill="#0000ff"/>
<circle cx="521.5" cy="246.8" r="0.8" fill="#0000ff"/>
<circle cx="517.0" cy="248.2" r="0.8" fill="#0000ff"/>
<circle cx="520.8" cy="227.9" r="0.8" fill="#0000ff"/>
<circle cx="516.2" cy="224.9" r="0.8" fill="#0000ff"/>
<circle cx="521.3" cy="236.2" r="0.8" fill="#0000ff"/>
<circle cx="522.8" cy="257.2" r="0.8" fill="#0000ff"/>
<circle cx="518.3" cy="229.7" r="0.8" fill="#0000ff"/>
<circle cx="515.2" cy="234.7" r="0.8" fill="#0000ff"/>
<circle cx="521.8" cy="246.5" r="0.8" fill="#0000ff"/>
<circle cx="516.0" cy="257.4" r="0.8" fill="#0000ff"/>
<circle cx="518.8" cy="251.1" r="0.8" fill="#0000ff"/>
<circle cx="519.6" cy="247.3" r="0.8" fill="#0000ff"/>
<circle cx="522.5" cy="215.1" r="0.8" fill="#0000ff"/>
<circle cx="520.7" cy="250.4" r="0.8" fill="#0000ff"/>
<circle cx="521.5" cy="247.8" r="0.8" fill="#0000ff"/>
<circle cx="520.6" cy="254.4" r="0.8" fill="#0000ff"/>
<circle cx="518.9" cy="249.2" r="0.8" fill="#0000ff"/>
<circle cx="521.4" cy="214.3" r="0.8" fill="#0000ff"/>
<circle cx="514.1" cy="244.5" r="0.8" fill="#0000ff"/>
<circle cx="519.3" cy="221.1" r="0.8" fill="#0000ff"/>
<circle cx="514.5" cy="226.8" r="0.8" fill="#0000ff"/>
<circle cx="522.7" cy="253.1" r="0.8" fill="#0000ff"/>
<circle cx="520.6" cy="257.0" r="0.8" fill="#0000ff"/>
<circle cx="514.5" cy="242.7" r="0.8" fill="#0000ff"/>
<circle cx="510.8" cy="245.4" r="0.8" fill="#0000ff"/>
<circle cx="519.8" cy="218.3" r="0.8" fill="#0000ff"/>
<circle cx="519.3" cy="248.8" r="0.8" fill="#0000ff"/>
<circle cx="513.9" cy="255.8" r="0.8" fill="#0000ff"/>
<circle cx="519.6" cy="254.8" r="0.8" fill="#0000ff"/>
<circle cx="518.5" cy="244.9" r="0.8" fill="#0000ff"/>
<circle cx="511.9" cy="240.2" r="0.8" fill="#0000ff"/>
<circle cx="514.6" cy="246.8" r="0.8" fill="#0000ff"/>
<circle cx="522.7" cy="234.8" r="0.8" fill="#0000ff"/>
<circle cx="512.1" cy="249.1" r="0.8" fill="#0000ff"/>
<circle cx="512.6" cy="254.7" r="0.8" fill="#0000ff"/>
<circle cx="550.2" cy="214.2" r="0.8" fill="#ff0000"/>
<circle cx="548.2" cy="219.2" r="0.8" fill="#ff0000"/>
<circle cx="547.5" cy="239.8" r="0.8" fill="#ff0000"/>
<circle cx="546.2" cy="244.0" r="0.8" fill="#ff0000"/>
<circle cx="546.8" cy="217.8" r="0.8" fill="#ff0000"/>
<circle cx="552.3" cy="228.4" r="0.8" fill="#ff0000"/>
<circle cx="550.6" cy="196.9" r="0.8" fill="#ff0000"/>
<circle cx="552.2" cy="246.5" r="0.8" fill="#ff0000"/>
<circle cx="546.8" cy="235.4" r="0.8" fill="#ff0000"/>
<circle cx="548.3" cy="245.9" r="0.8" fill="#ff0000"/>
<circle cx="555.4" cy="240.1" r="0.8" fill="#ff0000"/>
<circle cx="549.1" cy="198.8" r="0.8" fill="#ff0000"/>
<circle cx="547.9" cy="227.3" r="0.8" fill="#ff0000"/>
<circle cx="554.8" cy="235.2" r="0.8" fill="#ff0000"/>
<circle cx="551.5" cy="246.7" r="0.8" fill="#ff0000"/>
<circle cx="547.2" cy="238.3" r="0.8" fill="#ff0000"/>
<circle cx="547.4" cy="242.3" r="0.8" fill="#ff0000"/>
<circle cx="547.7" cy="215.6" r="0.8" fill="#ff0000"/>
<circle cx="548.9" cy="231.6" r="0.8" fill="#ff0000"/>
<circle cx="546.0" cy="233.2" r="0.8" fill="#ff0000"/>
<circle cx="548.5" cy="234.8" r="0.8" fill="#ff0000"/>
<circle cx="547.4" cy="211.8" r="0.8" fill="#ff0000"/>
<circle cx="552.0" cy="202.2" r="0.8" fill="#ff0000"/>
<circle cx="547.3" cy="202.8" r="0.8" fill="#ff0000"/>
<circle cx="548.9" cy="196.2" r="0.8" fill="#ff0000"/>
<circle cx="549.8" cy="211.7" r="0.8" fill="#ff0000"/>
<circle cx="547.9" cy="221.9" r="0.8" fill="#ff0000"/>
<circle cx="549.7" cy="250.1" r="0.8" fill="#ff0000"/>
<circle cx="552.4" cy="225.2" r="0.8" fill="#ff0000"/>
<circle cx="554.9" cy="232.0" r="0.8" fill="#ff0000"/>
<circle cx="549.1" cy="219.6" r="0.8" fill="#ff0000"/>
<circle cx="549.8" cy="211.6" r="0.8" fill="#ff0000"/>
<circle cx="552.3" cy="234.6" r="0.8" fill="#ff0000"/>
<circle cx="546.5" cy="212.1" r="0.8" fill="#ff0000"/>
<circle cx="549.1" cy="197.4" r="0.8" fill="#ff0000"/>
<circle cx="550.2" cy="247.3" r="0.8" fill="#ff0000"/>
<circle cx="546.3" cy="250.6" r="0.8" fill="#ff0000"/>
<circle cx="546.2" cy="216.2" r="0.8" fill="#ff0000"/>
<circle cx="548.4" cy="225.4" r="0.8" fill="#ff0000"/>
<circle cx="553.1" cy="257.3" r="0.8" fill="#ff0000"/>
<circle cx="546.3" cy="224.9" r="0.8" fill="#ff0000"/>
<circle cx="549.7" cy="241.5" r="0.8" fill="#ff0000"/>
<circle cx="548.8" cy="255.5" r="0.8" fill="#ff0000"/>
<circle cx="546.1" cy="233.7" r="0.8" fill="#ff0000"/>
<circle cx="548.6" cy="214.9" r="0.8" fill="#ff0000"/>
<circle cx="549.5" cy="218.5" r="0.8" fill="#ff0000"/>
<circle cx="548.0" cy="203.4" r="0.8" fill="#ff0000"/>
<circle cx="553.0" cy="207.1" r="0.8" fill="#ff0000"/>
<circle cx="546.8" cy="220.5" r="0.8" fill="#ff0000"/>
<circle cx="552.0" cy="235.5" r="0.8" fill="#ff0000"/>
<circle cx="546.0" cy="253.2" r="0.8" fill="#ff0000"/>
<circle cx="546.5" cy="201.1" r="0.8" fill="#ff0000"/>
<circle cx="546.1" cy="198.1" r="0.8" fill="#ff0000"/>
<circle cx="552.1" cy="237.3" r="0.8" fill="#ff0000"/>
<circle cx="555.6" cy="241.9" r="0.8" fill="#ff0000"/>
<circle cx="551.7" cy="215.4" r="0.8" fill="#ff0000"/>
<circle cx="552.1" cy="256.5" r="0.8" fill="#ff0000"/>
<circle cx="554.0" cy="253.3" r="0.8" fill="#ff0000"/>
<circle cx="546.2" cy="206.1" r="0.8" fill="#ff0000"/>
<circle cx="548.8" cy="246.0" r="0.8" fill="#ff0000"/>
<circle cx="546.9" cy="234.1" r="0.8" fill="#ff0000"/>
<circle cx="551.7" cy="222.1" r="0.8" fill="#ff0000"/>
<circle cx="548.6" cy="222.3" r="0.8" fill="#ff0000"/>
<circle cx="546.2" cy="219.2" r="0.8" fill="#ff0000"/>
<circle cx="553.8" cy="236.8" r="0.8" fill="#ff0000"/>
<circle cx="547.0" cy="199.5" r="0.8" fill="#ff0000"/>
<circle cx="546.8" cy="239.1" r="0.8" fill="#ff0000"/>
<circle cx="550.3" cy="236.2" r="0.8" fill="#ff0000"/>
<circle cx="548.9" cy="223.4" r="0.8" fill="#ff0000"/>
<circle cx="551.8" cy="231.9" r="0.8" fill="#ff0000"/>
<circle cx="552.2" cy="213.4" r="0.8" fill="#ff0000"/>
<circle cx="553.1" cy="207.1" r="0.8" fill="#ff0000"/>
<circle cx="547.5" cy="222.1" r="0.8" fill="#ff0000"/>
<circle cx="548.1" cy="246.1" r="0.8" fill="#ff0000"/>
<circle cx="548.7" cy="223.4" r="0.8" fill="#ff0000"/>
<circle cx="552.3" cy="251.6" r="0.8" fill="#ff0000"/>
<circle cx="553.0" cy="208.4" r="0.8" fill="#ff0000"/>
<circle cx="551.0" cy="225.7" r="0.8" fill="#ff0000"/>
<circle cx="547.7" cy="202.1" r="0.8" fill="#ff0000"/>
<circle cx="547.5" cy="235.7" r="0.8" fill="#ff0000"/>
<circle cx="552.0" cy="209.3" r="0.8" fill="#ff0000"/>
<circle cx="546.1" cy="242.9" r="0.8" fill="#ff0000"/>
<circle cx="551.4" cy="251.1" r="0.8" fill="#ff0000"/>
<circle cx="553.8" cy="225.7" r="0.8" fill="#ff0000"/>
<circle cx="548.7" cy="230.1" r="0.8" fill="#ff0000"/>
<circle cx="546.3" cy="237.0" r="0.8" fill="#ff0000"/>
<circle cx="547.9" cy="197.8" r="0.8" fill="#ff0000"/>
<circle cx="551.5" cy="248.6" r="0.8" fill="#ff0000"/>
<circle cx="547.6" cy="257.2" r="0.8" fill="#ff0000"/>
<circle cx="548.4" cy="234.0" r="0.8" fill="#ff0000"/>
<circle cx="552.5" cy="247.5" r="0.8" fill="#ff0000"/>
<circle cx="548.5" cy="212.2" r="0.8" fill="#ff0000"/>
<circle cx="552.2" cy="246.0" r="0.8" fill="#ff0000"/>
<circle cx="549.8" cy="251.0" r="0.8" fill="#ff0000"/>
<circle cx="547.0" cy="230.3" r="0.8" fill="#ff0000"/>
<circle cx="551.0" cy="214.5" r="0.8" fill="#ff0000"/>
<circle cx="553.6" cy="207.1" r="0.8" fill="#ff0000"/>
<circle cx="554.3" cy="242.1" r="0.8" fill="#ff0000"/>
<circle cx="546.3" cy="204.8" r="0.8" fill="#ff0000"/>
<circle cx="546.9" cy="201.2" r="0.8" fill="#ff0000"/>
<circle cx="521.9" cy="256.9" r="0.8" fill="#0000ff"/>
<circle cx="520.7" cy="240.4" r="0.8" fill="#0000ff"/>
<circle cx="518.7" cy="245.7" r="0.8" fill="#0000ff"/>
<circle cx="518.7" cy="243.4" r="0.8" fill="#0000ff"/>
<circle cx="518.3" cy="255.7" r="0.8" fill="#0000ff"/>
<circle cx="522.8" cy="235.9" r="0.8" fill="#0000ff"/>
<circle cx="516.1" cy="246.6" r="0.8" fill="#0000ff"/>
<circle cx="513.8" cy="252.9" r="0.8" fill="#0000ff"/>
<circle cx="514.5" cy="250.8" r="0.8" fill="#0000ff"/>
<circle cx="517.1" cy="245.4" r="0.8" fill="#0000ff"/>
<circle cx="512.9" cy="254.8" r="0.8" fill="#0000ff"/>
<circle cx="516.9" cy="248.0" r="0.8" fill="#0000ff"/>
<circle cx="514.9" cy="257.5" r="0.8" fill="#0000ff"/>
<circle cx="520.1" cy="249.2" r="0.8" fill="#0000ff"/>
<circle cx="518.7" cy="256.5" r="0.8" fill="#0000ff"/>
<circle cx="521.7" cy="240.5" r="0.8" fill="#0000ff"/>
<circle cx="521.9" cy="254.9" r="0.8" fill="#0000ff"/>
<circle cx="521.5" cy="242.9" r="0.8" fill="#0000ff"/>
<circle cx="515.7" cy="245.0" r="0.8" fill="#0000ff"/>
<circle cx="519.2" cy="250.4" r="0.8" fill="#0000ff"/>
<circle cx="522.5" cy="248.9" r="0.8" fill="#0000ff"/>
<circle cx="514.9" cy="249.0" r="0.8" fill="#0000ff"/>
<circle cx="520.0" cy="236.2" r="0.8" fill="#0000ff"/>
<circle cx="520.6" cy="247.8" r="0.8" fill="#0000ff"/>
<circle cx="518.5" cy="249.0" r="0.8" fill="#0000ff"/>
<circle cx="520.7" cy="244.9" r="0.8" fill="#0000ff"/>
<circle cx="512.6" cy="255.8" r="0.8" fill="#0000ff"/>
<circle cx="518.2" cy="255.5" r="0.8" fill="#0000ff"/>
<circle cx="520.3" cy="255.3" r="0.8" fill="#0000ff"/>
<circle cx="521.0" cy="251.4" r="0.8" fill="#0000ff"/>
<circle cx="521.5" cy="249.6" r="0.8" fill="#0000ff"/>
<circle cx="522.7" cy="255.6" r="0.8" fill="#0000ff"/>
<circle cx="522.4" cy="249.7" r="0.8" fill="#0000ff"/>
<circle cx="518.8" cy="243.3" r="0.8" fill="#0000ff"/>
<circle cx="517.1" cy="243.9" r="0.8" fill="#0000ff"/>
<circle cx="519.0" cy="247.5" r="0.8" fill="#0000ff"/>
<circle cx="520.4" cy="247.0" r="0.8" fill="#0000ff"/>
<circle cx="517.1" cy="256.1" r="0.8" fill="#0000ff"/>
<circle cx="520.2" cy="253.5" r="0.8" fill="#0000ff"/>
<circle cx="522.7" cy="236.9" r="0.8" fill="#0000ff"/>
<circle cx="517.4" cy="254.8" r="0.8" fill="#0000ff"/>
<circle cx="515.5" cy="245.7" r="0.8" fill="#0000ff"/>
<circle cx="522.0" cy="251.1" r="0.8" fill="#0000ff"/>
<circle cx="520.6" cy="255.0" r="0.8" fill="#0000ff"/>
<circle cx="518.1" cy="253.7" r="0.8" fill="#0000ff"/>
<circle cx="520.6" cy="244.2" r="0.8" fill="#0000ff"/>
<circle cx="516.8" cy="253.7" r="0.8" fill="#0000ff"/>
<circle cx="512.4" cy="256.3" r="0.8" fill="#0000ff"/>
<circle cx="518.8" cy="237.4" r="0.8" fill="#0000ff"/>
<circle cx="516.5" cy="253.5" r="0.8" fill="#0000ff"/>
<circle cx="517.0" cy="241.5" r="0.8" fill="#0000ff"/>
<circle cx="520.9" cy="244.9" r="0.8" fill="#0000ff"/>
<circle cx="515.3" cy="251.7" r="0.8" fill="#0000ff"/>
<circle cx="517.8" cy="238.6" r="0.8" fill="#0000ff"/>
<circle cx="522.6" cy="243.1" r="0.8" fill="#0000ff"/>
<circle cx="515.7" cy="257.1" r="0.8" fill="#0000ff"/>
<circle cx="516.6" cy="244.5" r="0.8" fill="#0000ff"/>
<circle cx="521.2" cy="248.9" r="0.8" fill="#0000ff"/>
<circle cx="520.2" cy="242.2" r="0.8" fill="#0000ff"/>
<circle cx="517.8" cy="240.0" r="0.8" fill="#0000ff"/>
<circle cx="546.3" cy="257.1" r="0.8" fill="#ff0000"/>
<circle cx="551.3" cy="246.5" r="0.8" fill="#ff0000"/>
<circle cx="552.6" cy="253.0" r="0.8" fill="#ff0000"/>
<circle cx="547.9" cy="252.6" r="0.8" fill="#ff0000"/>
<circle cx="552.0" cy="256.8" r="0.8" fill="#ff0000"/>
<circle cx="547.1" cy="237.9" r="0.8" fill="#ff0000"/>
<circle cx="546.2" cy="241.0" r="0.8" fill="#ff0000"/>
<circle cx="546.4" cy="239.5" r="0.8" fill="#ff0000"/>
<circle cx="547.5" cy="228.8" r="0.8" fill="#ff0000"/>
<circle cx="547.2" cy="232.2" r="0.8" fill="#ff0000"/>
<circle cx="549.0" cy="246.0" r="0.8" fill="#ff0000"/>
<circle cx="550.6" cy="242.6" r="0.8" fill="#ff0000"/>
<circle cx="546.8" cy="242.2" r="0.8" fill="#ff0000"/>
<circle cx="552.5" cy="241.4" r="0.8" fill="#ff0000"/>
<circle cx="550.8" cy="237.2" r="0.8" fill="#ff0000"/>
<circle cx="546.5" cy="237.6" r="0.8" fill="#ff0000"/>
<circle cx="551.5" cy="248.4" r="0.8" fill="#ff0000"/>
<circle cx="549.5" cy="237.0" r="0.8" fill="#ff0000"/>
<circle cx="546.4" cy="244.2" r="0.8" fill="#ff0000"/>
<circle cx="552.8" cy="244.7" r="0.8" fill="#ff0000"/>
<circle cx="547.6" cy="235.4" r="0.8" fill="#ff0000"/>
<circle cx="552.7" cy="255.8" r="0.8" fill="#ff0000"/>
<circle cx="546.3" cy="237.4" r="0.8" fill="#ff0000"/>
<circle cx="546.9" cy="256.3" r="0.8" fill="#ff0000"/>
<circle cx="548.5" cy="240.8" r="0.8" fill="#ff0000"/>
<circle cx="551.9" cy="238.8" r="0.8" fill="#ff0000"/>
<circle cx="547.3" cy="232.1" r="0.8" fill="#ff0000"/>
<circle cx="548.5" cy="242.4" r="0.8" fill="#ff0000"/>
<circle cx="551.3" cy="244.8" r="0.8" fill="#ff0000"/>
<circle cx="552.6" cy="245.6" r="0.8" fill="#ff0000"/>
<circle cx="546.5" cy="252.8" r="0.8" fill="#ff0000"/>
<circle cx="547.7" cy="243.7" r="0.8" fill="#ff0000"/>
<circle cx="547.0" cy="250.1" r="0.8" fill="#ff0000"/>
<circle cx="552.6" cy="250.7" r="0.8" fill="#ff0000"/>
<circle cx="551.6" cy="254.5" r="0.8" fill="#ff0000"/>
<circle cx="550.3" cy="252.4" r="0.8" fill="#ff0000"/>
<circle cx="548.2" cy="226.8" r="0.8" fill="#ff0000"/>
<circle cx="547.9" cy="236.3" r="0.8" fill="#ff0000"/>
<circle cx="552.2" cy="249.5" r="0.8" fill="#ff0000"/>
<circle cx="548.4" cy="249.5" r="0.8" fill="#ff0000"/>
<circle cx="549.1" cy="229.3" r="0.8" fill="#ff0000"/>
<circle cx="549.1" cy="250.4" r="0.8" fill="#ff0000"/>
<circle cx="547.5" cy="229.6" r="0.8" fill="#ff0000"/>
<circle cx="548.0" cy="228.0" r="0.8" fill="#ff0000"/>
<circle cx="546.3" cy="253.2" r="0.8" fill="#ff0000"/>
<circle cx="551.8" cy="256.3" r="0.8" fill="#ff0000"/>
<circle cx="553.1" cy="244.2" r="0.8" fill="#ff0000"/>
<circle cx="551.8" cy="250.9" r="0.8" fill="#ff0000"/>
<circle cx="547.2" cy="254.8" r="0.8" fill="#ff0000"/>
<circle cx="547.3" cy="225.8" r="0.8" fill="#ff0000"/>
<polygon points="522.6,217.0 523.6,216.6 524.4,225.0 525.0,235.0 526.0,245.0 526.8,252.0 528.6,265.1 531.3,273.9 534.8,282.2 537.8,273.9 539.6,265.1 540.9,252.0 541.8,245.0 542.6,235.0 543.5,225.0 544.3,215.0 545.0,209.5 546.0,209.5 546.2,257.4 551.5,260.0 551.0,265.1 549.0,272.0 546.0,278.0 542.0,282.0 537.0,284.3 534.3,284.8 529.0,284.0 524.0,281.0 519.5,275.0 516.5,269.0 514.0,263.0 512.0,259.0 511.5,257.6 522.7,257.4" fill="#000"/>
<circle cx="507.9" cy="260.8" r="0.7" fill="#000"/>
<circle cx="514.0" cy="259.7" r="0.7" fill="#000"/>
<circle cx="508.3" cy="264.0" r="0.7" fill="#000"/>
<circle cx="514.1" cy="257.6" r="0.7" fill="#000"/>
<circle cx="513.9" cy="264.0" r="0.7" fill="#000"/>
<circle cx="509.1" cy="262.0" r="0.7" fill="#000"/>
<circle cx="506.6" cy="261.7" r="0.7" fill="#000"/>
<circle cx="506.0" cy="264.6" r="0.7" fill="#000"/>
<circle cx="511.2" cy="259.2" r="0.7" fill="#000"/>
<circle cx="508.1" cy="263.1" r="0.7" fill="#000"/>
<circle cx="508.9" cy="264.8" r="0.7" fill="#000"/>
<circle cx="511.9" cy="264.8" r="0.7" fill="#000"/>
<circle cx="507.2" cy="259.5" r="0.7" fill="#000"/>
<circle cx="515.4" cy="264.4" r="0.7" fill="#000"/>
<circle cx="510.3" cy="267.0" r="0.7" fill="#000"/>
<circle cx="506.6" cy="263.3" r="0.7" fill="#000"/>
<circle cx="507.3" cy="260.5" r="0.7" fill="#000"/>
<circle cx="508.1" cy="261.3" r="0.7" fill="#000"/>
<circle cx="506.5" cy="259.3" r="0.7" fill="#000"/>
<circle cx="512.8" cy="259.2" r="0.7" fill="#000"/>
<circle cx="510.9" cy="266.8" r="0.7" fill="#000"/>
<circle cx="513.8" cy="258.5" r="0.7" fill="#000"/>
<circle cx="517.9" cy="274.1" r="0.7" fill="#000"/>
<circle cx="516.3" cy="277.2" r="0.7" fill="#000"/>
<circle cx="519.7" cy="271.1" r="0.7" fill="#000"/>
<circle cx="518.6" cy="268.8" r="0.7" fill="#000"/>
<circle cx="516.4" cy="278.4" r="0.7" fill="#000"/>
<circle cx="518.3" cy="270.9" r="0.7" fill="#000"/>
<circle cx="519.1" cy="274.2" r="0.7" fill="#000"/>
<circle cx="519.1" cy="277.2" r="0.7" fill="#000"/>
<circle cx="515.6" cy="270.9" r="0.7" fill="#000"/>
<circle cx="513.1" cy="278.4" r="0.7" fill="#000"/>
<circle cx="513.0" cy="267.1" r="0.7" fill="#000"/>
<circle cx="514.4" cy="267.9" r="0.7" fill="#000"/>
<circle cx="513.9" cy="275.7" r="0.7" fill="#000"/>
<circle cx="514.6" cy="278.0" r="0.7" fill="#000"/>
<circle cx="515.1" cy="278.1" r="0.7" fill="#000"/>
<circle cx="518.6" cy="269.7" r="0.7" fill="#000"/>
<circle cx="516.5" cy="275.5" r="0.7" fill="#000"/>
<circle cx="513.4" cy="266.5" r="0.7" fill="#000"/>
<circle cx="519.0" cy="266.2" r="0.7" fill="#000"/>
<circle cx="513.5" cy="267.8" r="0.7" fill="#000"/>
<circle cx="518.7" cy="275.1" r="0.7" fill="#000"/>
<circle cx="516.1" cy="273.0" r="0.7" fill="#000"/>
<circle cx="556.6" cy="259.8" r="0.7" fill="#000"/>
<circle cx="555.1" cy="260.6" r="0.7" fill="#000"/>
<circle cx="548.9" cy="264.8" r="0.7" fill="#000"/>
<circle cx="550.6" cy="263.6" r="0.7" fill="#000"/>
<circle cx="553.6" cy="258.2" r="0.7" fill="#000"/>
<circle cx="550.3" cy="261.8" r="0.7" fill="#000"/>
<circle cx="555.1" cy="265.7" r="0.7" fill="#000"/>
<circle cx="550.8" cy="261.7" r="0.7" fill="#000"/>
<circle cx="554.6" cy="265.3" r="0.7" fill="#000"/>
<circle cx="546.5" cy="266.0" r="0.7" fill="#000"/>
<circle cx="555.5" cy="260.6" r="0.7" fill="#000"/>
<circle cx="553.4" cy="262.6" r="0.7" fill="#000"/>
<circle cx="548.9" cy="258.3" r="0.7" fill="#000"/>
<circle cx="552.0" cy="265.2" r="0.7" fill="#000"/>
<circle cx="550.5" cy="264.3" r="0.7" fill="#000"/>
<circle cx="548.0" cy="266.2" r="0.7" fill="#000"/>
<circle cx="554.1" cy="262.8" r="0.7" fill="#000"/>
<circle cx="547.2" cy="257.6" r="0.7" fill="#000"/>
<circle cx="550.5" cy="260.2" r="0.7" fill="#000"/>
<circle cx="546.4" cy="260.9" r="0.7" fill="#000"/>
<circle cx="556.2" cy="263.0" r="0.7" fill="#000"/>
<circle cx="553.5" cy="262.1" r="0.7" fill="#000"/>
<circle cx="547.7" cy="270.1" r="0.7" fill="#000"/>
<circle cx="550.1" cy="277.0" r="0.7" fill="#000"/>
<circle cx="549.7" cy="274.0" r="0.7" fill="#000"/>
<circle cx="550.3" cy="270.6" r="0.7" fill="#000"/>
<circle cx="553.4" cy="279.2" r="0.7" fill="#000"/>
<circle cx="546.5" cy="279.2" r="0.7" fill="#000"/>
<circle cx="551.4" cy="268.4" r="0.7" fill="#000"/>
<circle cx="552.0" cy="278.6" r="0.7" fill="#000"/>
<circle cx="547.7" cy="270.6" r="0.7" fill="#000"/>
<circle cx="549.4" cy="268.5" r="0.7" fill="#000"/>
<circle cx="546.3" cy="277.1" r="0.7" fill="#000"/>
<circle cx="548.4" cy="273.2" r="0.7" fill="#000"/>
<circle cx="553.2" cy="278.4" r="0.7" fill="#000"/>
<circle cx="547.7" cy="268.7" r="0.7" fill="#000"/>
<circle cx="545.4" cy="276.6" r="0.7" fill="#000"/>
<circle cx="550.0" cy="280.8" r="0.7" fill="#000"/>
<circle cx="549.8" cy="276.0" r="0.7" fill="#000"/>
<circle cx="552.2" cy="274.6" r="0.7" fill="#000"/>
<circle cx="549.5" cy="272.7" r="0.7" fill="#000"/>
<circle cx="549.5" cy="277.2" r="0.7" fill="#000"/>
<circle cx="549.4" cy="277.7" r="0.7" fill="#000"/>
<circle cx="548.4" cy="276.1" r="0.7" fill="#000"/>
<circle cx="532.4" cy="283.3" r="0.7" fill="#000"/>
<circle cx="541.3" cy="280.6" r="0.7" fill="#000"/>
<circle cx="522.8" cy="281.3" r="0.7" fill="#000"/>
<circle cx="527.8" cy="280.8" r="0.7" fill="#000"/>
<circle cx="536.1" cy="282.6" r="0.7" fill="#000"/>
<circle cx="533.3" cy="284.5" r="0.7" fill="#000"/>
<circle cx="525.0" cy="285.4" r="0.7" fill="#000"/>
<circle cx="541.6" cy="281.5" r="0.7" fill="#000"/>
<circle cx="540.8" cy="285.0" r="0.7" fill="#000"/>
<circle cx="522.0" cy="282.0" r="0.7" fill="#000"/>
<circle cx="539.8" cy="281.9" r="0.7" fill="#000"/>
<circle cx="526.3" cy="281.7" r="0.7" fill="#000"/>
<circle cx="529.2" cy="284.2" r="0.7" fill="#000"/>
<circle cx="534.6" cy="282.0" r="0.7" fill="#000"/>
<circle cx="546.5" cy="282.0" r="0.7" fill="#000"/>
<circle cx="535.7" cy="285.2" r="0.7" fill="#000"/>
<circle cx="546.6" cy="282.5" r="0.7" fill="#000"/>
<circle cx="531.6" cy="283.6" r="0.7" fill="#000"/>
<circle cx="535.2" cy="283.2" r="0.7" fill="#000"/>
<circle cx="535.7" cy="281.1" r="0.7" fill="#000"/>
<circle cx="526.2" cy="283.2" r="0.7" fill="#000"/>
<circle cx="527.8" cy="282.7" r="0.7" fill="#000"/>
<circle cx="522.5" cy="221.1" r="0.7" fill="#000"/>
<circle cx="522.8" cy="223.3" r="0.7" fill="#000"/>
<circle cx="524.4" cy="217.9" r="0.7" fill="#000"/>
<circle cx="522.9" cy="220.7" r="0.7" fill="#000"/>
<circle cx="523.0" cy="216.6" r="0.7" fill="#000"/>
<circle cx="522.6" cy="226.5" r="0.7" fill="#000"/>
<circle cx="524.3" cy="215.2" r="0.7" fill="#000"/>
<circle cx="524.1" cy="228.5" r="0.7" fill="#000"/>
<circle cx="524.0" cy="227.8" r="0.7" fill="#000"/>
<circle cx="522.6" cy="220.0" r="0.7" fill="#000"/>
<circle cx="524.3" cy="223.8" r="0.7" fill="#000"/>
<circle cx="524.1" cy="219.3" r="0.7" fill="#000"/>
<circle cx="524.3" cy="230.2" r="0.7" fill="#000"/>
<circle cx="522.8" cy="227.5" r="0.7" fill="#000"/>
<circle cx="524.6" cy="215.8" r="0.7" fill="#000"/>
<circle cx="522.9" cy="230.4" r="0.7" fill="#000"/>
<circle cx="523.9" cy="221.1" r="0.7" fill="#000"/>
<circle cx="522.8" cy="230.3" r="0.7" fill="#000"/>
<circle cx="522.5" cy="231.9" r="0.7" fill="#000"/>
<circle cx="522.5" cy="220.6" r="0.7" fill="#000"/>
<circle cx="523.5" cy="225.0" r="0.7" fill="#000"/>
<circle cx="524.2" cy="222.0" r="0.7" fill="#000"/>
<circle cx="546.0" cy="210.5" r="0.7" fill="#000"/>
<circle cx="544.1" cy="221.9" r="0.7" fill="#000"/>
<circle cx="544.0" cy="213.4" r="0.7" fill="#000"/>
<circle cx="543.2" cy="218.6" r="0.7" fill="#000"/>
<circle cx="544.7" cy="219.6" r="0.7" fill="#000"/>
<circle cx="545.2" cy="212.1" r="0.7" fill="#000"/>
<circle cx="543.2" cy="210.9" r="0.7" fill="#000"/>
<circle cx="544.6" cy="211.5" r="0.7" fill="#000"/>
<circle cx="544.4" cy="209.0" r="0.7" fill="#000"/>
<circle cx="543.7" cy="220.6" r="0.7" fill="#000"/>
<circle cx="545.5" cy="211.3" r="0.7" fill="#000"/>
<circle cx="545.6" cy="206.4" r="0.7" fill="#000"/>
<circle cx="545.1" cy="209.7" r="0.7" fill="#000"/>
<circle cx="543.9" cy="213.5" r="0.7" fill="#000"/>
<circle cx="544.8" cy="210.0" r="0.7" fill="#000"/>
<circle cx="543.8" cy="211.6" r="0.7" fill="#000"/>
<circle cx="545.6" cy="220.6" r="0.7" fill="#000"/>
<circle cx="545.8" cy="217.4" r="0.7" fill="#000"/>
<circle cx="546.1" cy="205.7" r="0.7" fill="#000"/>
<circle cx="545.8" cy="211.2" r="0.7" fill="#000"/>
<circle cx="543.1" cy="208.5" r="0.7" fill="#000"/>
<circle cx="545.8" cy="216.3" r="0.7" fill="#000"/>
<circle cx="463.7" cy="26.0" r="0.85" fill="#0000ff"/>
<circle cx="511.5" cy="66.3" r="0.85" fill="#0000ff"/>
<circle cx="509.6" cy="110.3" r="0.85" fill="#0000ff"/>
<circle cx="517.8" cy="153.1" r="0.85" fill="#0000ff"/>
<circle cx="513.6" cy="159.6" r="0.85" fill="#0000ff"/>
<circle cx="511.4" cy="166.6" r="0.85" fill="#0000ff"/>
<circle cx="503.0" cy="173.9" r="0.85" fill="#0000ff"/>
<circle cx="519.3" cy="179.8" r="0.85" fill="#0000ff"/>
<circle cx="510.5" cy="181.8" r="0.85" fill="#0000ff"/>
<circle cx="519.3" cy="183.6" r="0.85" fill="#0000ff"/>
<circle cx="513.9" cy="191.2" r="0.85" fill="#0000ff"/>
<circle cx="509.9" cy="194.2" r="0.85" fill="#0000ff"/>
<circle cx="506.9" cy="197.7" r="0.85" fill="#0000ff"/>
<circle cx="513.9" cy="199.5" r="0.85" fill="#0000ff"/>
<circle cx="514.0" cy="200.5" r="0.85" fill="#0000ff"/>
<circle cx="520.9" cy="200.7" r="0.85" fill="#0000ff"/>
<circle cx="520.4" cy="203.8" r="0.85" fill="#0000ff"/>
<circle cx="517.9" cy="207.6" r="0.85" fill="#0000ff"/>
<circle cx="520.9" cy="207.6" r="0.85" fill="#0000ff"/>
<circle cx="519.8" cy="211.4" r="0.85" fill="#0000ff"/>
<circle cx="520.5" cy="212.9" r="0.85" fill="#0000ff"/>
<circle cx="514.4" cy="213.5" r="0.85" fill="#0000ff"/>
<circle cx="509.5" cy="218.3" r="0.85" fill="#0000ff"/>
<circle cx="514.4" cy="217.9" r="0.85" fill="#0000ff"/>
<circle cx="519.0" cy="218.7" r="0.85" fill="#0000ff"/>
<circle cx="522.1" cy="217.9" r="0.85" fill="#0000ff"/>
<circle cx="509.1" cy="221.0" r="0.85" fill="#0000ff"/>
<circle cx="510.2" cy="221.2" r="0.85" fill="#0000ff"/>
<circle cx="515.6" cy="223.4" r="0.85" fill="#0000ff"/>
<circle cx="519.0" cy="222.3" r="0.85" fill="#0000ff"/>
<circle cx="522.4" cy="223.8" r="0.85" fill="#0000ff"/>
<circle cx="514.6" cy="226.3" r="0.85" fill="#0000ff"/>
<circle cx="519.4" cy="226.7" r="0.85" fill="#0000ff"/>
<circle cx="521.3" cy="228.2" r="0.85" fill="#0000ff"/>
<circle cx="506.4" cy="228.2" r="0.85" fill="#0000ff"/>
<circle cx="507.9" cy="227.4" r="0.85" fill="#0000ff"/>
<circle cx="512.1" cy="230.9" r="0.85" fill="#0000ff"/>
<circle cx="516.3" cy="230.9" r="0.85" fill="#0000ff"/>
<circle cx="519.0" cy="231.6" r="0.85" fill="#0000ff"/>
<circle cx="521.3" cy="232.4" r="0.85" fill="#0000ff"/>
<circle cx="511.8" cy="235.5" r="0.85" fill="#0000ff"/>
<circle cx="514.0" cy="233.9" r="0.85" fill="#0000ff"/>
<circle cx="515.2" cy="234.7" r="0.85" fill="#0000ff"/>
<circle cx="507.9" cy="247.5" r="0.85" fill="#0000ff"/>
<circle cx="510.2" cy="253.8" r="0.85" fill="#0000ff"/>
<circle cx="510.6" cy="241.6" r="0.85" fill="#0000ff"/>
<circle cx="487.4" cy="200.5" r="0.85" fill="#0000ff"/>
<circle cx="500.5" cy="218.0" r="0.85" fill="#0000ff"/>
<circle cx="554.8" cy="140.4" r="0.85" fill="#ff0000"/>
<circle cx="553.1" cy="153.5" r="0.85" fill="#ff0000"/>
<circle cx="549.5" cy="155.8" r="0.85" fill="#ff0000"/>
<circle cx="554.5" cy="155.8" r="0.85" fill="#ff0000"/>
<circle cx="551.5" cy="160.6" r="0.85" fill="#ff0000"/>
<circle cx="549.5" cy="164.8" r="0.85" fill="#ff0000"/>
<circle cx="547.6" cy="170.1" r="0.85" fill="#ff0000"/>
<circle cx="551.1" cy="170.1" r="0.85" fill="#ff0000"/>
<circle cx="554.5" cy="170.9" r="0.85" fill="#ff0000"/>
<circle cx="549.0" cy="175.1" r="0.85" fill="#ff0000"/>
<circle cx="551.5" cy="173.5" r="0.85" fill="#ff0000"/>
<circle cx="552.2" cy="174.3" r="0.85" fill="#ff0000"/>
<circle cx="552.1" cy="178.9" r="0.85" fill="#ff0000"/>
<circle cx="546.9" cy="181.2" r="0.85" fill="#ff0000"/>
<circle cx="549.9" cy="181.6" r="0.85" fill="#ff0000"/>
<circle cx="548.8" cy="183.5" r="0.85" fill="#ff0000"/>
<circle cx="552.2" cy="182.7" r="0.85" fill="#ff0000"/>
<circle cx="552.4" cy="183.9" r="0.85" fill="#ff0000"/>
<circle cx="548.4" cy="191.9" r="0.85" fill="#ff0000"/>
<circle cx="549.9" cy="197.6" r="0.85" fill="#ff0000"/>
<circle cx="550.7" cy="197.6" r="0.85" fill="#ff0000"/>
<circle cx="554.9" cy="199.5" r="0.85" fill="#ff0000"/>
<circle cx="569.3" cy="225.7" r="0.85" fill="#ff0000"/>
<circle cx="558.2" cy="228.4" r="0.85" fill="#ff0000"/>
<circle cx="558.2" cy="230.5" r="0.85" fill="#ff0000"/>
<circle cx="558.5" cy="234.8" r="0.85" fill="#ff0000"/>
<circle cx="554.4" cy="231.6" r="0.85" fill="#ff0000"/>
<circle cx="560.5" cy="249.6" r="0.85" fill="#ff0000"/>
<circle cx="553.3" cy="245.4" r="0.85" fill="#ff0000"/>
<circle cx="554.0" cy="222.5" r="0.85" fill="#ff0000"/>
<circle cx="554.0" cy="217.1" r="0.85" fill="#ff0000"/>
<circle cx="553.3" cy="211.4" r="0.85" fill="#ff0000"/>
<circle cx="554.4" cy="204.9" r="0.85" fill="#ff0000"/>
<circle cx="554.8" cy="200.2" r="0.85" fill="#ff0000"/>
<circle cx="549.8" cy="197.7" r="0.85" fill="#ff0000"/>
<circle cx="509.4" cy="280.5" r="0.85" fill="#000"/>
<circle cx="517.7" cy="282.5" r="0.85" fill="#000"/>
<circle cx="555.3" cy="259.4" r="0.85" fill="#000"/>
<circle cx="555.8" cy="265.1" r="0.85" fill="#000"/>
<circle cx="554.5" cy="268.6" r="0.85" fill="#000"/>
<circle cx="561.0" cy="275.0" r="0.85" fill="#000"/>
<circle cx="551.4" cy="278.1" r="0.85" fill="#000"/>
<circle cx="552.7" cy="280.7" r="0.85" fill="#000"/>
<circle cx="548.3" cy="280.7" r="0.85" fill="#000"/>
<circle cx="557.8" cy="282.6" r="0.85" fill="#000"/>
<circle cx="516.8" cy="273.3" r="0.85" fill="#000"/>
<circle cx="507.6" cy="260.8" r="0.85" fill="#000"/>
<circle cx="511.6" cy="260.3" r="0.85" fill="#000"/>
<circle cx="578.9" cy="272.6" r="0.85" fill="#000"/>
<circle cx="593.1" cy="261.6" r="0.85" fill="#000"/>
<line x1="522.65" y1="16.2" x2="522.65" y2="294" stroke="#000" stroke-opacity="0.8" stroke-width="1.15" stroke-dasharray="2.4 1.4 0.6 1.7" stroke-dashoffset="1.5"/>
<line x1="545.55" y1="16.2" x2="545.55" y2="294" stroke="#000" stroke-opacity="0.8" stroke-width="1.15" stroke-dasharray="2.4 1.4 0.6 1.7" stroke-dashoffset="1.5"/>
<line x1="386.3" y1="257.76" x2="683" y2="257.76" stroke="#000" stroke-opacity="0.72" stroke-width="1" stroke-dasharray="2.4 1.4 0.6 1.7" stroke-dashoffset="1.5"/>
<rect x="386.3" y="16.2" width="296.70" height="277.80" fill="none" stroke="#9a9a9a" stroke-width="1"/>
<line x1="382.7" y1="284.30" x2="386.3" y2="284.30" stroke="#777" stroke-width="0.8"/>
<line x1="382.7" y1="263.90" x2="386.3" y2="263.90" stroke="#777" stroke-width="0.8"/>
<line x1="382.7" y1="243.50" x2="386.3" y2="243.50" stroke="#777" stroke-width="0.8"/>
<line x1="382.7" y1="223.10" x2="386.3" y2="223.10" stroke="#777" stroke-width="0.8"/>
<line x1="382.7" y1="202.70" x2="386.3" y2="202.70" stroke="#777" stroke-width="0.8"/>
<line x1="382.7" y1="182.30" x2="386.3" y2="182.30" stroke="#777" stroke-width="0.8"/>
<line x1="382.7" y1="161.90" x2="386.3" y2="161.90" stroke="#777" stroke-width="0.8"/>
<line x1="382.7" y1="141.50" x2="386.3" y2="141.50" stroke="#777" stroke-width="0.8"/>
<line x1="382.7" y1="121.10" x2="386.3" y2="121.10" stroke="#777" stroke-width="0.8"/>
<line x1="382.7" y1="100.70" x2="386.3" y2="100.70" stroke="#777" stroke-width="0.8"/>
<line x1="382.7" y1="80.30" x2="386.3" y2="80.30" stroke="#777" stroke-width="0.8"/>
<line x1="382.7" y1="39.50" x2="386.3" y2="39.50" stroke="#777" stroke-width="0.8"/>
<text transform="translate(379.20,284.30) rotate(-90) scale(0.85,1)" font-size="5.8" text-anchor="middle" fill="#111" stroke="#111" stroke-width="0.18" stroke-opacity="0.6">0</text>
<text transform="translate(379.20,263.90) rotate(-90) scale(0.85,1)" font-size="5.8" text-anchor="middle" fill="#111" stroke="#111" stroke-width="0.18" stroke-opacity="0.6">1</text>
<text transform="translate(379.20,243.50) rotate(-90) scale(0.85,1)" font-size="5.8" text-anchor="middle" fill="#111" stroke="#111" stroke-width="0.18" stroke-opacity="0.6">2</text>
<text transform="translate(379.20,223.10) rotate(-90) scale(0.85,1)" font-size="5.8" text-anchor="middle" fill="#111" stroke="#111" stroke-width="0.18" stroke-opacity="0.6">3</text>
<text transform="translate(379.20,202.70) rotate(-90) scale(0.85,1)" font-size="5.8" text-anchor="middle" fill="#111" stroke="#111" stroke-width="0.18" stroke-opacity="0.6">4</text>
<text transform="translate(379.20,182.30) rotate(-90) scale(0.85,1)" font-size="5.8" text-anchor="middle" fill="#111" stroke="#111" stroke-width="0.18" stroke-opacity="0.6">5</text>
<text transform="translate(379.20,161.90) rotate(-90) scale(0.85,1)" font-size="5.8" text-anchor="middle" fill="#111" stroke="#111" stroke-width="0.18" stroke-opacity="0.6">6</text>
<text transform="translate(379.20,141.50) rotate(-90) scale(0.85,1)" font-size="5.8" text-anchor="middle" fill="#111" stroke="#111" stroke-width="0.18" stroke-opacity="0.6">7</text>
<text transform="translate(379.20,121.10) rotate(-90) scale(0.85,1)" font-size="5.8" text-anchor="middle" fill="#111" stroke="#111" stroke-width="0.18" stroke-opacity="0.6">8</text>
<text transform="translate(379.20,100.70) rotate(-90) scale(0.85,1)" font-size="5.8" text-anchor="middle" fill="#111" stroke="#111" stroke-width="0.18" stroke-opacity="0.6">9</text>
<text transform="translate(379.20,80.30) rotate(-90) scale(0.85,1)" font-size="5.8" text-anchor="middle" fill="#111" stroke="#111" stroke-width="0.18" stroke-opacity="0.6">10</text>
<text transform="translate(379.20,39.50) rotate(-90) scale(0.85,1)" font-size="5.8" text-anchor="middle" fill="#111" stroke="#111" stroke-width="0.18" stroke-opacity="0.6">12</text>
<line x1="396.80" y1="294" x2="396.80" y2="297.4" stroke="#777" stroke-width="0.8"/>
<text transform="translate(396.80,306.00) scale(0.85,1)" font-size="5.8" text-anchor="middle" fill="#111" stroke="#111" stroke-width="0.18" stroke-opacity="0.6">-12</text>
<line x1="408.25" y1="294" x2="408.25" y2="297.4" stroke="#777" stroke-width="0.8"/>
<text transform="translate(408.25,306.00) scale(0.85,1)" font-size="5.8" text-anchor="middle" fill="#111" stroke="#111" stroke-width="0.18" stroke-opacity="0.6">-11</text>
<line x1="419.70" y1="294" x2="419.70" y2="297.4" stroke="#777" stroke-width="0.8"/>
<text transform="translate(419.70,306.00) scale(0.85,1)" font-size="5.8" text-anchor="middle" fill="#111" stroke="#111" stroke-width="0.18" stroke-opacity="0.6">-10</text>
<line x1="431.15" y1="294" x2="431.15" y2="297.4" stroke="#777" stroke-width="0.8"/>
<text transform="translate(431.15,306.00) scale(0.85,1)" font-size="5.8" text-anchor="middle" fill="#111" stroke="#111" stroke-width="0.18" stroke-opacity="0.6">-9</text>
<line x1="442.60" y1="294" x2="442.60" y2="297.4" stroke="#777" stroke-width="0.8"/>
<text transform="translate(442.60,306.00) scale(0.85,1)" font-size="5.8" text-anchor="middle" fill="#111" stroke="#111" stroke-width="0.18" stroke-opacity="0.6">-8</text>
<line x1="454.05" y1="294" x2="454.05" y2="297.4" stroke="#777" stroke-width="0.8"/>
<text transform="translate(454.05,306.00) scale(0.85,1)" font-size="5.8" text-anchor="middle" fill="#111" stroke="#111" stroke-width="0.18" stroke-opacity="0.6">-7</text>
<line x1="465.50" y1="294" x2="465.50" y2="297.4" stroke="#777" stroke-width="0.8"/>
<text transform="translate(465.50,306.00) scale(0.85,1)" font-size="5.8" text-anchor="middle" fill="#111" stroke="#111" stroke-width="0.18" stroke-opacity="0.6">-6</text>
<line x1="476.95" y1="294" x2="476.95" y2="297.4" stroke="#777" stroke-width="0.8"/>
<text transform="translate(476.95,306.00) scale(0.85,1)" font-size="5.8" text-anchor="middle" fill="#111" stroke="#111" stroke-width="0.18" stroke-opacity="0.6">-5</text>
<line x1="488.40" y1="294" x2="488.40" y2="297.4" stroke="#777" stroke-width="0.8"/>
<text transform="translate(488.40,306.00) scale(0.85,1)" font-size="5.8" text-anchor="middle" fill="#111" stroke="#111" stroke-width="0.18" stroke-opacity="0.6">-4</text>
<line x1="499.85" y1="294" x2="499.85" y2="297.4" stroke="#777" stroke-width="0.8"/>
<text transform="translate(499.85,306.00) scale(0.85,1)" font-size="5.8" text-anchor="middle" fill="#111" stroke="#111" stroke-width="0.18" stroke-opacity="0.6">-3</text>
<line x1="511.30" y1="294" x2="511.30" y2="297.4" stroke="#777" stroke-width="0.8"/>
<text transform="translate(511.30,306.00) scale(0.85,1)" font-size="5.8" text-anchor="middle" fill="#111" stroke="#111" stroke-width="0.18" stroke-opacity="0.6">-2</text>
<line x1="522.75" y1="294" x2="522.75" y2="297.4" stroke="#777" stroke-width="0.8"/>
<text transform="translate(522.75,306.00) scale(0.85,1)" font-size="5.8" text-anchor="middle" fill="#111" stroke="#111" stroke-width="0.18" stroke-opacity="0.6">-1</text>
<line x1="534.20" y1="294" x2="534.20" y2="297.4" stroke="#777" stroke-width="0.8"/>
<text transform="translate(534.20,306.00) scale(0.85,1)" font-size="5.8" text-anchor="middle" fill="#111" stroke="#111" stroke-width="0.18" stroke-opacity="0.6">0</text>
<line x1="545.65" y1="294" x2="545.65" y2="297.4" stroke="#777" stroke-width="0.8"/>
<text transform="translate(545.65,306.00) scale(0.85,1)" font-size="5.8" text-anchor="middle" fill="#111" stroke="#111" stroke-width="0.18" stroke-opacity="0.6">1</text>
<line x1="557.10" y1="294" x2="557.10" y2="297.4" stroke="#777" stroke-width="0.8"/>
<text transform="translate(557.10,306.00) scale(0.85,1)" font-size="5.8" text-anchor="middle" fill="#111" stroke="#111" stroke-width="0.18" stroke-opacity="0.6">2</text>
<line x1="568.55" y1="294" x2="568.55" y2="297.4" stroke="#777" stroke-width="0.8"/>
<text transform="translate(568.55,306.00) scale(0.85,1)" font-size="5.8" text-anchor="middle" fill="#111" stroke="#111" stroke-width="0.18" stroke-opacity="0.6">3</text>
<line x1="580.00" y1="294" x2="580.00" y2="297.4" stroke="#777" stroke-width="0.8"/>
<text transform="translate(580.00,306.00) scale(0.85,1)" font-size="5.8" text-anchor="middle" fill="#111" stroke="#111" stroke-width="0.18" stroke-opacity="0.6">4</text>
<line x1="591.45" y1="294" x2="591.45" y2="297.4" stroke="#777" stroke-width="0.8"/>
<text transform="translate(591.45,306.00) scale(0.85,1)" font-size="5.8" text-anchor="middle" fill="#111" stroke="#111" stroke-width="0.18" stroke-opacity="0.6">5</text>
<line x1="602.90" y1="294" x2="602.90" y2="297.4" stroke="#777" stroke-width="0.8"/>
<text transform="translate(602.90,306.00) scale(0.85,1)" font-size="5.8" text-anchor="middle" fill="#111" stroke="#111" stroke-width="0.18" stroke-opacity="0.6">6</text>
<line x1="614.35" y1="294" x2="614.35" y2="297.4" stroke="#777" stroke-width="0.8"/>
<text transform="translate(614.35,306.00) scale(0.85,1)" font-size="5.8" text-anchor="middle" fill="#111" stroke="#111" stroke-width="0.18" stroke-opacity="0.6">7</text>
<line x1="625.80" y1="294" x2="625.80" y2="297.4" stroke="#777" stroke-width="0.8"/>
<text transform="translate(625.80,306.00) scale(0.85,1)" font-size="5.8" text-anchor="middle" fill="#111" stroke="#111" stroke-width="0.18" stroke-opacity="0.6">8</text>
<line x1="637.25" y1="294" x2="637.25" y2="297.4" stroke="#777" stroke-width="0.8"/>
<text transform="translate(637.25,306.00) scale(0.85,1)" font-size="5.8" text-anchor="middle" fill="#111" stroke="#111" stroke-width="0.18" stroke-opacity="0.6">9</text>
<line x1="648.70" y1="294" x2="648.70" y2="297.4" stroke="#777" stroke-width="0.8"/>
<text transform="translate(648.70,306.00) scale(0.85,1)" font-size="5.8" text-anchor="middle" fill="#111" stroke="#111" stroke-width="0.18" stroke-opacity="0.6">10</text>
<line x1="660.15" y1="294" x2="660.15" y2="297.4" stroke="#777" stroke-width="0.8"/>
<text transform="translate(660.15,306.00) scale(0.85,1)" font-size="5.8" text-anchor="middle" fill="#111" stroke="#111" stroke-width="0.18" stroke-opacity="0.6">11</text>
<line x1="671.60" y1="294" x2="671.60" y2="297.4" stroke="#777" stroke-width="0.8"/>
<text transform="translate(671.60,306.00) scale(0.85,1)" font-size="5.8" text-anchor="middle" fill="#111" stroke="#111" stroke-width="0.18" stroke-opacity="0.6">12</text>
<text transform="translate(534.20,318.20) scale(0.94,1)" font-size="5.8" text-anchor="middle" fill="#111" stroke="#111" stroke-width="0.18" stroke-opacity="0.6">log2FoldChange</text>
<text transform="translate(367.30,155.40) rotate(-90) scale(0.85,1)" font-size="5.8" text-anchor="middle" fill="#111" stroke="#111" stroke-width="0.18" stroke-opacity="0.6">-log10(padj)</text>
<rect x="597.6" y="127.6" width="85.40" height="23.60" fill="#fff" stroke="#8c8c8c" stroke-width="0.8"/>
<text transform="translate(607.10,135.90) scale(0.85,1)" font-size="5.9" fill="#111" stroke="#111" stroke-width="0.18" stroke-opacity="0.6">Total DEGs = 12122</text>
<text transform="translate(607.10,142.00) scale(0.85,1)" font-size="5.9" fill="#111" stroke="#111" stroke-width="0.18" stroke-opacity="0.6">Significant Up-regulated = 171</text>
<circle cx="602.60" cy="140.20" r="0.75" fill="#f00"/>
<text transform="translate(607.10,148.10) scale(0.85,1)" font-size="5.9" fill="#111" stroke="#111" stroke-width="0.18" stroke-opacity="0.6">Significant Down-regulated = 214</text>
<circle cx="602.60" cy="146.30" r="0.75" fill="#00f"/>
</g>
<g>
<text transform="translate(149.00,347.70) scale(0.99,1)" font-size="8.4" font-weight="bold" text-anchor="middle" fill="#1e1e1e" stroke="#1e1e1e" stroke-width="0.18" stroke-opacity="0.6">Significant Genes</text>
<rect x="20.00" y="368.10" width="64.80" height="9.60" fill="#26d000"/>
<rect x="20.00" y="377.40" width="64.80" height="9.60" fill="#2ec900"/>
<rect x="20.00" y="386.70" width="64.80" height="9.60" fill="#2bcb00"/>
<rect x="20.00" y="396.00" width="64.80" height="9.60" fill="#24d300"/>
<rect x="20.00" y="405.30" width="64.80" height="9.60" fill="#21d500"/>
<rect x="20.00" y="414.60" width="64.80" height="9.60" fill="#24d300"/>
<rect x="20.00" y="423.90" width="64.80" height="9.60" fill="#2ec900"/>
<rect x="20.00" y="433.20" width="64.80" height="9.60" fill="#2ec900"/>
<rect x="20.00" y="442.50" width="64.80" height="9.60" fill="#33c400"/>
<rect x="20.00" y="451.80" width="64.80" height="9.60" fill="#40b800"/>
<rect x="20.00" y="461.10" width="64.80" height="9.60" fill="#26d000"/>
<rect x="20.00" y="470.40" width="64.80" height="9.60" fill="#33c400"/>
<rect x="20.00" y="479.70" width="64.80" height="9.60" fill="#33c400"/>
<rect x="20.00" y="489.00" width="64.80" height="9.60" fill="#2ec900"/>
<rect x="20.00" y="498.30" width="64.80" height="9.60" fill="#2bcb00"/>
<rect x="20.00" y="507.60" width="64.80" height="9.60" fill="#12e400"/>
<rect x="20.00" y="516.90" width="64.80" height="9.60" fill="#12e400"/>
<rect x="20.00" y="526.20" width="64.80" height="9.60" fill="#14e100"/>
<rect x="20.00" y="535.50" width="64.80" height="9.60" fill="#24d300"/>
<rect x="20.00" y="544.80" width="64.80" height="9.60" fill="#12e400"/>
<rect x="20.00" y="554.10" width="64.80" height="9.60" fill="#1fd800"/>
<rect x="20.00" y="563.40" width="64.80" height="9.60" fill="#1fd800"/>
<rect x="20.00" y="572.70" width="64.80" height="9.60" fill="#ff0000"/>
<rect x="20.00" y="582.00" width="64.80" height="9.60" fill="#fa0500"/>
<rect x="20.00" y="591.30" width="64.80" height="9.60" fill="#fa0500"/>
<rect x="20.00" y="600.60" width="64.80" height="9.60" fill="#f50a00"/>
<rect x="20.00" y="609.90" width="64.80" height="9.60" fill="#ed1100"/>
<rect x="20.00" y="619.20" width="64.80" height="9.60" fill="#ed1100"/>
<rect x="20.00" y="628.50" width="64.80" height="9.60" fill="#ed1100"/>
<rect x="20.00" y="637.80" width="64.80" height="9.60" fill="#c43800"/>
<rect x="20.00" y="647.10" width="64.80" height="9.60" fill="#bd4000"/>
<rect x="20.00" y="656.40" width="64.80" height="9.60" fill="#b84500"/>
<rect x="20.00" y="665.70" width="64.80" height="9.60" fill="#b84500"/>
<rect x="20.00" y="675.00" width="64.80" height="9.60" fill="#e01d00"/>
<rect x="20.00" y="684.30" width="64.80" height="9.60" fill="#f20c00"/>
<rect x="20.00" y="693.60" width="64.80" height="9.60" fill="#f20c00"/>
<rect x="20.00" y="702.90" width="64.80" height="9.60" fill="#ed1100"/>
<rect x="20.00" y="712.20" width="64.80" height="9.60" fill="#e61800"/>
<rect x="20.00" y="721.50" width="64.80" height="9.60" fill="#d12c00"/>
<rect x="20.00" y="730.80" width="64.80" height="9.60" fill="#cf2f00"/>
<rect x="20.00" y="740.10" width="64.80" height="9.60" fill="#cc3100"/>
<rect x="20.00" y="749.40" width="64.80" height="9.60" fill="#cc3100"/>
<rect x="20.00" y="758.70" width="64.80" height="9.60" fill="#e01d00"/>
<rect x="20.00" y="768.00" width="64.80" height="9.60" fill="#e01d00"/>
<rect x="20.00" y="777.30" width="64.80" height="9.60" fill="#e01d00"/>
<rect x="20.00" y="786.60" width="64.80" height="9.60" fill="#e01d00"/>
<rect x="20.00" y="795.90" width="64.80" height="9.60" fill="#e01d00"/>
<rect x="20.00" y="805.20" width="64.80" height="9.60" fill="#e01d00"/>
<rect x="20.00" y="814.50" width="64.80" height="9.60" fill="#e01d00"/>
<rect x="20.00" y="823.80" width="64.80" height="9.60" fill="#e01d00"/>
<rect x="84.50" y="368.10" width="64.80" height="9.60" fill="#40b800"/>
<rect x="84.50" y="377.40" width="64.80" height="9.60" fill="#33c400"/>
<rect x="84.50" y="386.70" width="64.80" height="9.60" fill="#33c400"/>
<rect x="84.50" y="396.00" width="64.80" height="9.60" fill="#33c400"/>
<rect x="84.50" y="405.30" width="64.80" height="9.60" fill="#33c400"/>
<rect x="84.50" y="414.60" width="64.80" height="9.60" fill="#33c400"/>
<rect x="84.50" y="423.90" width="64.80" height="9.60" fill="#26d000"/>
<rect x="84.50" y="433.20" width="64.80" height="9.60" fill="#26d000"/>
<rect x="84.50" y="442.50" width="64.80" height="9.60" fill="#1adc00"/>
<rect x="84.50" y="451.80" width="64.80" height="9.60" fill="#1adc00"/>
<rect x="84.50" y="461.10" width="64.80" height="9.60" fill="#33c400"/>
<rect x="84.50" y="470.40" width="64.80" height="9.60" fill="#2bcb00"/>
<rect x="84.50" y="479.70" width="64.80" height="9.60" fill="#2ec900"/>
<rect x="84.50" y="489.00" width="64.80" height="9.60" fill="#2bcb00"/>
<rect x="84.50" y="498.30" width="64.80" height="9.60" fill="#2ec900"/>
<rect x="84.50" y="507.60" width="64.80" height="9.60" fill="#42b500"/>
<rect x="84.50" y="516.90" width="64.80" height="9.60" fill="#42b500"/>
<rect x="84.50" y="526.20" width="64.80" height="9.60" fill="#47b000"/>
<rect x="84.50" y="535.50" width="64.80" height="9.60" fill="#2bcb00"/>
<rect x="84.50" y="544.80" width="64.80" height="9.60" fill="#33c400"/>
<rect x="84.50" y="554.10" width="64.80" height="9.60" fill="#38bf00"/>
<rect x="84.50" y="563.40" width="64.80" height="9.60" fill="#38bf00"/>
<rect x="84.50" y="572.70" width="64.80" height="9.60" fill="#916900"/>
<rect x="84.50" y="582.00" width="64.80" height="9.60" fill="#9e5d00"/>
<rect x="84.50" y="591.30" width="64.80" height="9.60" fill="#a35800"/>
<rect x="84.50" y="600.60" width="64.80" height="9.60" fill="#a85300"/>
<rect x="84.50" y="609.90" width="64.80" height="9.60" fill="#a85300"/>
<rect x="84.50" y="619.20" width="64.80" height="9.60" fill="#a85300"/>
<rect x="84.50" y="628.50" width="64.80" height="9.60" fill="#a35800"/>
<rect x="84.50" y="637.80" width="64.80" height="9.60" fill="#e61800"/>
<rect x="84.50" y="647.10" width="64.80" height="9.60" fill="#f50a00"/>
<rect x="84.50" y="656.40" width="64.80" height="9.60" fill="#f20c00"/>
<rect x="84.50" y="665.70" width="64.80" height="9.60" fill="#f20c00"/>
<rect x="84.50" y="675.00" width="64.80" height="9.60" fill="#c73600"/>
<rect x="84.50" y="684.30" width="64.80" height="9.60" fill="#c23b00"/>
<rect x="84.50" y="693.60" width="64.80" height="9.60" fill="#c23b00"/>
<rect x="84.50" y="702.90" width="64.80" height="9.60" fill="#bf3d00"/>
<rect x="84.50" y="712.20" width="64.80" height="9.60" fill="#c23b00"/>
<rect x="84.50" y="721.50" width="64.80" height="9.60" fill="#e61800"/>
<rect x="84.50" y="730.80" width="64.80" height="9.60" fill="#e01d00"/>
<rect x="84.50" y="740.10" width="64.80" height="9.60" fill="#e61800"/>
<rect x="84.50" y="749.40" width="64.80" height="9.60" fill="#e61800"/>
<rect x="84.50" y="758.70" width="64.80" height="9.60" fill="#cc3100"/>
<rect x="84.50" y="768.00" width="64.80" height="9.60" fill="#cc3100"/>
<rect x="84.50" y="777.30" width="64.80" height="9.60" fill="#cc3100"/>
<rect x="84.50" y="786.60" width="64.80" height="9.60" fill="#cc3100"/>
<rect x="84.50" y="795.90" width="64.80" height="9.60" fill="#cc3100"/>
<rect x="84.50" y="805.20" width="64.80" height="9.60" fill="#cc3100"/>
<rect x="84.50" y="814.50" width="64.80" height="9.60" fill="#cc3100"/>
<rect x="84.50" y="823.80" width="64.80" height="9.60" fill="#cc3100"/>
<rect x="149.00" y="368.10" width="64.80" height="9.60" fill="#ff0000"/>
<rect x="149.00" y="377.40" width="64.80" height="9.60" fill="#ff0000"/>
<rect x="149.00" y="386.70" width="64.80" height="9.60" fill="#ff0000"/>
<rect x="149.00" y="396.00" width="64.80" height="9.60" fill="#ed1100"/>
<rect x="149.00" y="405.30" width="64.80" height="9.60" fill="#ed1100"/>
<rect x="149.00" y="414.60" width="64.80" height="9.60" fill="#ed1100"/>
<rect x="149.00" y="423.90" width="64.80" height="9.60" fill="#ed1100"/>
<rect x="149.00" y="433.20" width="64.80" height="9.60" fill="#e01d00"/>
<rect x="149.00" y="442.50" width="64.80" height="9.60" fill="#fa0500"/>
<rect x="149.00" y="451.80" width="64.80" height="9.60" fill="#fa0500"/>
<rect x="149.00" y="461.10" width="64.80" height="9.60" fill="#fa0500"/>
<rect x="149.00" y="470.40" width="64.80" height="9.60" fill="#ff0000"/>
<rect x="149.00" y="479.70" width="64.80" height="9.60" fill="#fa0500"/>
<rect x="149.00" y="489.00" width="64.80" height="9.60" fill="#e61800"/>
<rect x="149.00" y="498.30" width="64.80" height="9.60" fill="#d92500"/>
<rect x="149.00" y="507.60" width="64.80" height="9.60" fill="#db2200"/>
<rect x="149.00" y="516.90" width="64.80" height="9.60" fill="#de2000"/>
<rect x="149.00" y="526.20" width="64.80" height="9.60" fill="#d92500"/>
<rect x="149.00" y="535.50" width="64.80" height="9.60" fill="#b24a00"/>
<rect x="149.00" y="544.80" width="64.80" height="9.60" fill="#cc3100"/>
<rect x="149.00" y="554.10" width="64.80" height="9.60" fill="#cc3100"/>
<rect x="149.00" y="563.40" width="64.80" height="9.60" fill="#d12c00"/>
<rect x="149.00" y="572.70" width="64.80" height="9.60" fill="#2bcb00"/>
<rect x="149.00" y="582.00" width="64.80" height="9.60" fill="#2bcb00"/>
<rect x="149.00" y="591.30" width="64.80" height="9.60" fill="#2bcb00"/>
<rect x="149.00" y="600.60" width="64.80" height="9.60" fill="#24d300"/>
<rect x="149.00" y="609.90" width="64.80" height="9.60" fill="#2bcb00"/>
<rect x="149.00" y="619.20" width="64.80" height="9.60" fill="#24d300"/>
<rect x="149.00" y="628.50" width="64.80" height="9.60" fill="#21d500"/>
<rect x="149.00" y="637.80" width="64.80" height="9.60" fill="#45b300"/>
<rect x="149.00" y="647.10" width="64.80" height="9.60" fill="#1fd800"/>
<rect x="149.00" y="656.40" width="64.80" height="9.60" fill="#30c600"/>
<rect x="149.00" y="665.70" width="64.80" height="9.60" fill="#30c600"/>
<rect x="149.00" y="675.00" width="64.80" height="9.60" fill="#40b800"/>
<rect x="149.00" y="684.30" width="64.80" height="9.60" fill="#38bf00"/>
<rect x="149.00" y="693.60" width="64.80" height="9.60" fill="#38bf00"/>
<rect x="149.00" y="702.90" width="64.80" height="9.60" fill="#40b800"/>
<rect x="149.00" y="712.20" width="64.80" height="9.60" fill="#38bf00"/>
<rect x="149.00" y="721.50" width="64.80" height="9.60" fill="#1fd800"/>
<rect x="149.00" y="730.80" width="64.80" height="9.60" fill="#1fd800"/>
<rect x="149.00" y="740.10" width="64.80" height="9.60" fill="#2bcb00"/>
<rect x="149.00" y="749.40" width="64.80" height="9.60" fill="#2bcb00"/>
<rect x="149.00" y="758.70" width="64.80" height="9.60" fill="#1adc00"/>
<rect x="149.00" y="768.00" width="64.80" height="9.60" fill="#26d000"/>
<rect x="149.00" y="777.30" width="64.80" height="9.60" fill="#26d000"/>
<rect x="149.00" y="786.60" width="64.80" height="9.60" fill="#33c400"/>
<rect x="149.00" y="795.90" width="64.80" height="9.60" fill="#33c400"/>
<rect x="149.00" y="805.20" width="64.80" height="9.60" fill="#2bcb00"/>
<rect x="149.00" y="814.50" width="64.80" height="9.60" fill="#2bcb00"/>
<rect x="149.00" y="823.80" width="64.80" height="9.60" fill="#2bcb00"/>
<rect x="213.50" y="368.10" width="64.80" height="9.60" fill="#946700"/>
<rect x="213.50" y="377.40" width="64.80" height="9.60" fill="#916900"/>
<rect x="213.50" y="386.70" width="64.80" height="9.60" fill="#877300"/>
<rect x="213.50" y="396.00" width="64.80" height="9.60" fill="#b24a00"/>
<rect x="213.50" y="405.30" width="64.80" height="9.60" fill="#b84500"/>
<rect x="213.50" y="414.60" width="64.80" height="9.60" fill="#ad4e00"/>
<rect x="213.50" y="423.90" width="64.80" height="9.60" fill="#ad4e00"/>
<rect x="213.50" y="433.20" width="64.80" height="9.60" fill="#ba4200"/>
<rect x="213.50" y="442.50" width="64.80" height="9.60" fill="#a85300"/>
<rect x="213.50" y="451.80" width="64.80" height="9.60" fill="#a35800"/>
<rect x="213.50" y="461.10" width="64.80" height="9.60" fill="#a15b00"/>
<rect x="213.50" y="470.40" width="64.80" height="9.60" fill="#a35800"/>
<rect x="213.50" y="479.70" width="64.80" height="9.60" fill="#a35800"/>
<rect x="213.50" y="489.00" width="64.80" height="9.60" fill="#a65600"/>
<rect x="213.50" y="498.30" width="64.80" height="9.60" fill="#cc3100"/>
<rect x="213.50" y="507.60" width="64.80" height="9.60" fill="#d12c00"/>
<rect x="213.50" y="516.90" width="64.80" height="9.60" fill="#d12c00"/>
<rect x="213.50" y="526.20" width="64.80" height="9.60" fill="#c73600"/>
<rect x="213.50" y="535.50" width="64.80" height="9.60" fill="#e61800"/>
<rect x="213.50" y="544.80" width="64.80" height="9.60" fill="#db2200"/>
<rect x="213.50" y="554.10" width="64.80" height="9.60" fill="#e01d00"/>
<rect x="213.50" y="563.40" width="64.80" height="9.60" fill="#e01d00"/>
<rect x="213.50" y="572.70" width="64.80" height="9.60" fill="#33c400"/>
<rect x="213.50" y="582.00" width="64.80" height="9.60" fill="#30c600"/>
<rect x="213.50" y="591.30" width="64.80" height="9.60" fill="#2bcb00"/>
<rect x="213.50" y="600.60" width="64.80" height="9.60" fill="#2ec900"/>
<rect x="213.50" y="609.90" width="64.80" height="9.60" fill="#2ec900"/>
<rect x="213.50" y="619.20" width="64.80" height="9.60" fill="#38bf00"/>
<rect x="213.50" y="628.50" width="64.80" height="9.60" fill="#33c400"/>
<rect x="213.50" y="637.80" width="64.80" height="9.60" fill="#12e400"/>
<rect x="213.50" y="647.10" width="64.80" height="9.60" fill="#38bf00"/>
<rect x="213.50" y="656.40" width="64.80" height="9.60" fill="#2bcb00"/>
<rect x="213.50" y="665.70" width="64.80" height="9.60" fill="#2bcb00"/>
<rect x="213.50" y="675.00" width="64.80" height="9.60" fill="#1adc00"/>
<rect x="213.50" y="684.30" width="64.80" height="9.60" fill="#1adc00"/>
<rect x="213.50" y="693.60" width="64.80" height="9.60" fill="#1adc00"/>
<rect x="213.50" y="702.90" width="64.80" height="9.60" fill="#1adc00"/>
<rect x="213.50" y="712.20" width="64.80" height="9.60" fill="#21d500"/>
<rect x="213.50" y="721.50" width="64.80" height="9.60" fill="#2ec900"/>
<rect x="213.50" y="730.80" width="64.80" height="9.60" fill="#2bcb00"/>
<rect x="213.50" y="740.10" width="64.80" height="9.60" fill="#26d000"/>
<rect x="213.50" y="749.40" width="64.80" height="9.60" fill="#26d000"/>
<rect x="213.50" y="758.70" width="64.80" height="9.60" fill="#33c400"/>
<rect x="213.50" y="768.00" width="64.80" height="9.60" fill="#26d000"/>
<rect x="213.50" y="777.30" width="64.80" height="9.60" fill="#26d000"/>
<rect x="213.50" y="786.60" width="64.80" height="9.60" fill="#1adc00"/>
<rect x="213.50" y="795.90" width="64.80" height="9.60" fill="#21d500"/>
<rect x="213.50" y="805.20" width="64.80" height="9.60" fill="#21d500"/>
<rect x="213.50" y="814.50" width="64.80" height="9.60" fill="#21d500"/>
<rect x="213.50" y="823.80" width="64.80" height="9.60" fill="#21d500"/>
<line x1="20" y1="377.40" x2="278.00" y2="377.40" stroke="#9a9a9a" stroke-width="0.55" stroke-opacity="0.85"/>
<line x1="20" y1="386.70" x2="278.00" y2="386.70" stroke="#9a9a9a" stroke-width="0.55" stroke-opacity="0.85"/>
<line x1="20" y1="396.00" x2="278.00" y2="396.00" stroke="#9a9a9a" stroke-width="0.55" stroke-opacity="0.85"/>
<line x1="20" y1="405.30" x2="278.00" y2="405.30" stroke="#9a9a9a" stroke-width="0.55" stroke-opacity="0.85"/>
<line x1="20" y1="414.60" x2="278.00" y2="414.60" stroke="#9a9a9a" stroke-width="0.55" stroke-opacity="0.85"/>
<line x1="20" y1="423.90" x2="278.00" y2="423.90" stroke="#9a9a9a" stroke-width="0.55" stroke-opacity="0.85"/>
<line x1="20" y1="433.20" x2="278.00" y2="433.20" stroke="#9a9a9a" stroke-width="0.55" stroke-opacity="0.85"/>
<line x1="20" y1="442.50" x2="278.00" y2="442.50" stroke="#9a9a9a" stroke-width="0.55" stroke-opacity="0.85"/>
<line x1="20" y1="451.80" x2="278.00" y2="451.80" stroke="#9a9a9a" stroke-width="0.55" stroke-opacity="0.85"/>
<line x1="20" y1="461.10" x2="278.00" y2="461.10" stroke="#9a9a9a" stroke-width="0.55" stroke-opacity="0.85"/>
<line x1="20" y1="470.40" x2="278.00" y2="470.40" stroke="#9a9a9a" stroke-width="0.55" stroke-opacity="0.85"/>
<line x1="20" y1="479.70" x2="278.00" y2="479.70" stroke="#9a9a9a" stroke-width="0.55" stroke-opacity="0.85"/>
<line x1="20" y1="489.00" x2="278.00" y2="489.00" stroke="#9a9a9a" stroke-width="0.55" stroke-opacity="0.85"/>
<line x1="20" y1="498.30" x2="278.00" y2="498.30" stroke="#9a9a9a" stroke-width="0.55" stroke-opacity="0.85"/>
<line x1="20" y1="507.60" x2="278.00" y2="507.60" stroke="#9a9a9a" stroke-width="0.55" stroke-opacity="0.85"/>
<line x1="20" y1="516.90" x2="278.00" y2="516.90" stroke="#9a9a9a" stroke-width="0.55" stroke-opacity="0.85"/>
<line x1="20" y1="526.20" x2="278.00" y2="526.20" stroke="#9a9a9a" stroke-width="0.55" stroke-opacity="0.85"/>
<line x1="20" y1="535.50" x2="278.00" y2="535.50" stroke="#9a9a9a" stroke-width="0.55" stroke-opacity="0.85"/>
<line x1="20" y1="544.80" x2="278.00" y2="544.80" stroke="#9a9a9a" stroke-width="0.55" stroke-opacity="0.85"/>
<line x1="20" y1="554.10" x2="278.00" y2="554.10" stroke="#9a9a9a" stroke-width="0.55" stroke-opacity="0.85"/>
<line x1="20" y1="563.40" x2="278.00" y2="563.40" stroke="#9a9a9a" stroke-width="0.55" stroke-opacity="0.85"/>
<line x1="20" y1="572.70" x2="278.00" y2="572.70" stroke="#9a9a9a" stroke-width="0.55" stroke-opacity="0.85"/>
<line x1="20" y1="582.00" x2="278.00" y2="582.00" stroke="#9a9a9a" stroke-width="0.55" stroke-opacity="0.85"/>
<line x1="20" y1="591.30" x2="278.00" y2="591.30" stroke="#9a9a9a" stroke-width="0.55" stroke-opacity="0.85"/>
<line x1="20" y1="600.60" x2="278.00" y2="600.60" stroke="#9a9a9a" stroke-width="0.55" stroke-opacity="0.85"/>
<line x1="20" y1="609.90" x2="278.00" y2="609.90" stroke="#9a9a9a" stroke-width="0.55" stroke-opacity="0.85"/>
<line x1="20" y1="619.20" x2="278.00" y2="619.20" stroke="#9a9a9a" stroke-width="0.55" stroke-opacity="0.85"/>
<line x1="20" y1="628.50" x2="278.00" y2="628.50" stroke="#9a9a9a" stroke-width="0.55" stroke-opacity="0.85"/>
<line x1="20" y1="637.80" x2="278.00" y2="637.80" stroke="#9a9a9a" stroke-width="0.55" stroke-opacity="0.85"/>
<line x1="20" y1="647.10" x2="278.00" y2="647.10" stroke="#9a9a9a" stroke-width="0.55" stroke-opacity="0.85"/>
<line x1="20" y1="656.40" x2="278.00" y2="656.40" stroke="#9a9a9a" stroke-width="0.55" stroke-opacity="0.85"/>
<line x1="20" y1="665.70" x2="278.00" y2="665.70" stroke="#9a9a9a" stroke-width="0.55" stroke-opacity="0.85"/>
<line x1="20" y1="675.00" x2="278.00" y2="675.00" stroke="#9a9a9a" stroke-width="0.55" stroke-opacity="0.85"/>
<line x1="20" y1="684.30" x2="278.00" y2="684.30" stroke="#9a9a9a" stroke-width="0.55" stroke-opacity="0.85"/>
<line x1="20" y1="693.60" x2="278.00" y2="693.60" stroke="#9a9a9a" stroke-width="0.55" stroke-opacity="0.85"/>
<line x1="20" y1="702.90" x2="278.00" y2="702.90" stroke="#9a9a9a" stroke-width="0.55" stroke-opacity="0.85"/>
<line x1="20" y1="712.20" x2="278.00" y2="712.20" stroke="#9a9a9a" stroke-width="0.55" stroke-opacity="0.85"/>
<line x1="20" y1="721.50" x2="278.00" y2="721.50" stroke="#9a9a9a" stroke-width="0.55" stroke-opacity="0.85"/>
<line x1="20" y1="730.80" x2="278.00" y2="730.80" stroke="#9a9a9a" stroke-width="0.55" stroke-opacity="0.85"/>
<line x1="20" y1="740.10" x2="278.00" y2="740.10" stroke="#9a9a9a" stroke-width="0.55" stroke-opacity="0.85"/>
<line x1="20" y1="749.40" x2="278.00" y2="749.40" stroke="#9a9a9a" stroke-width="0.55" stroke-opacity="0.85"/>
<line x1="20" y1="758.70" x2="278.00" y2="758.70" stroke="#9a9a9a" stroke-width="0.55" stroke-opacity="0.85"/>
<line x1="20" y1="768.00" x2="278.00" y2="768.00" stroke="#9a9a9a" stroke-width="0.55" stroke-opacity="0.85"/>
<line x1="20" y1="777.30" x2="278.00" y2="777.30" stroke="#9a9a9a" stroke-width="0.55" stroke-opacity="0.85"/>
<line x1="20" y1="786.60" x2="278.00" y2="786.60" stroke="#9a9a9a" stroke-width="0.55" stroke-opacity="0.85"/>
<line x1="20" y1="795.90" x2="278.00" y2="795.90" stroke="#9a9a9a" stroke-width="0.55" stroke-opacity="0.85"/>
<line x1="20" y1="805.20" x2="278.00" y2="805.20" stroke="#9a9a9a" stroke-width="0.55" stroke-opacity="0.85"/>
<line x1="20" y1="814.50" x2="278.00" y2="814.50" stroke="#9a9a9a" stroke-width="0.55" stroke-opacity="0.85"/>
<line x1="20" y1="823.80" x2="278.00" y2="823.80" stroke="#9a9a9a" stroke-width="0.55" stroke-opacity="0.85"/>
<line x1="84.50" y1="368.1" x2="84.50" y2="833.10" stroke="#9a9a9a" stroke-width="0.55" stroke-opacity="0.85"/>
<line x1="149.00" y1="368.1" x2="149.00" y2="833.10" stroke="#9a9a9a" stroke-width="0.55" stroke-opacity="0.85"/>
<line x1="213.50" y1="368.1" x2="213.50" y2="833.10" stroke="#9a9a9a" stroke-width="0.55" stroke-opacity="0.85"/>
<text transform="translate(279.90,375.50) scale(0.85,1)" font-size="7.2" fill="#000" stroke="#000" stroke-width="0.18" stroke-opacity="0.6">MIR223HG</text>
<text transform="translate(279.90,384.80) scale(0.85,1)" font-size="7.2" fill="#000" stroke="#000" stroke-width="0.18" stroke-opacity="0.6">CXCL8</text>
<text transform="translate(279.90,394.10) scale(0.85,1)" font-size="7.2" fill="#000" stroke="#000" stroke-width="0.18" stroke-opacity="0.6">EGR1</text>
<text transform="translate(279.90,403.40) scale(0.85,1)" font-size="7.2" fill="#000" stroke="#000" stroke-width="0.18" stroke-opacity="0.6">JUNB</text>
<text transform="translate(279.90,412.70) scale(0.85,1)" font-size="7.2" fill="#000" stroke="#000" stroke-width="0.18" stroke-opacity="0.6">CARD9</text>
<text transform="translate(279.90,422.00) scale(0.85,1)" font-size="7.2" fill="#000" stroke="#000" stroke-width="0.18" stroke-opacity="0.6">DUSP6</text>
<text transform="translate(279.90,431.30) scale(0.85,1)" font-size="7.2" fill="#000" stroke="#000" stroke-width="0.18" stroke-opacity="0.6">NCF1B</text>
<text transform="translate(279.90,440.60) scale(0.85,1)" font-size="7.2" fill="#000" stroke="#000" stroke-width="0.18" stroke-opacity="0.6">OSGIN1</text>
<text transform="translate(279.90,449.90) scale(0.85,1)" font-size="7.2" fill="#000" stroke="#000" stroke-width="0.18" stroke-opacity="0.6">HCG18</text>
<text transform="translate(279.90,459.20) scale(0.85,1)" font-size="7.2" fill="#000" stroke="#000" stroke-width="0.18" stroke-opacity="0.6">LOC122513141</text>
<text transform="translate(279.90,468.50) scale(0.85,1)" font-size="7.2" fill="#000" stroke="#000" stroke-width="0.18" stroke-opacity="0.6">NCF1</text>
<text transform="translate(279.90,477.80) scale(0.85,1)" font-size="7.2" fill="#000" stroke="#000" stroke-width="0.18" stroke-opacity="0.6">ZFHX2</text>
<text transform="translate(279.90,487.10) scale(0.85,1)" font-size="7.2" fill="#000" stroke="#000" stroke-width="0.18" stroke-opacity="0.6">NCF1C</text>
<text transform="translate(279.90,496.40) scale(0.85,1)" font-size="7.2" fill="#000" stroke="#000" stroke-width="0.18" stroke-opacity="0.6">IER2</text>
<text transform="translate(279.90,505.70) scale(0.85,1)" font-size="7.2" fill="#000" stroke="#000" stroke-width="0.18" stroke-opacity="0.6">JUND</text>
<text transform="translate(279.90,515.00) scale(0.85,1)" font-size="7.2" fill="#000" stroke="#000" stroke-width="0.18" stroke-opacity="0.6">PPP1R10</text>
<text transform="translate(279.90,524.30) scale(0.85,1)" font-size="7.2" fill="#000" stroke="#000" stroke-width="0.18" stroke-opacity="0.6">RRS1</text>
<text transform="translate(279.90,533.60) scale(0.85,1)" font-size="7.2" fill="#000" stroke="#000" stroke-width="0.18" stroke-opacity="0.6">NFKBIE</text>
<text transform="translate(279.90,542.90) scale(0.85,1)" font-size="7.2" fill="#000" stroke="#000" stroke-width="0.18" stroke-opacity="0.6">AMDHD2</text>
<text transform="translate(279.90,552.20) scale(0.85,1)" font-size="7.2" fill="#000" stroke="#000" stroke-width="0.18" stroke-opacity="0.6">B3GALT6</text>
<text transform="translate(279.90,561.50) scale(0.85,1)" font-size="7.2" fill="#000" stroke="#000" stroke-width="0.18" stroke-opacity="0.6">SLC7A5</text>
<text transform="translate(279.90,570.80) scale(0.85,1)" font-size="7.2" fill="#000" stroke="#000" stroke-width="0.18" stroke-opacity="0.6">CBX6</text>
<text transform="translate(279.90,580.10) scale(0.85,1)" font-size="7.2" fill="#000" stroke="#000" stroke-width="0.18" stroke-opacity="0.6">XRN1</text>
<text transform="translate(279.90,589.40) scale(0.85,1)" font-size="7.2" fill="#000" stroke="#000" stroke-width="0.18" stroke-opacity="0.6">NDRG1</text>
<text transform="translate(279.90,598.70) scale(0.85,1)" font-size="7.2" fill="#000" stroke="#000" stroke-width="0.18" stroke-opacity="0.6">TSC22D3</text>
<text transform="translate(279.90,608.00) scale(0.85,1)" font-size="7.2" fill="#000" stroke="#000" stroke-width="0.18" stroke-opacity="0.6">ZFAS1</text>
<text transform="translate(279.90,617.30) scale(0.85,1)" font-size="7.2" fill="#000" stroke="#000" stroke-width="0.18" stroke-opacity="0.6">KLC4</text>
<text transform="translate(279.90,626.60) scale(0.85,1)" font-size="7.2" fill="#000" stroke="#000" stroke-width="0.18" stroke-opacity="0.6">VIM</text>
<text transform="translate(279.90,635.90) scale(0.85,1)" font-size="7.2" fill="#000" stroke="#000" stroke-width="0.18" stroke-opacity="0.6">HOXA9</text>
<text transform="translate(279.90,645.20) scale(0.85,1)" font-size="7.2" fill="#000" stroke="#000" stroke-width="0.18" stroke-opacity="0.6">MTMR4</text>
<text transform="translate(279.90,654.50) scale(0.85,1)" font-size="7.2" fill="#000" stroke="#000" stroke-width="0.18" stroke-opacity="0.6">CHD6</text>
<text transform="translate(279.90,663.80) scale(0.85,1)" font-size="7.2" fill="#000" stroke="#000" stroke-width="0.18" stroke-opacity="0.6">BMI1</text>
<text transform="translate(279.90,673.10) scale(0.85,1)" font-size="7.2" fill="#000" stroke="#000" stroke-width="0.18" stroke-opacity="0.6">PDK1</text>
<text transform="translate(279.90,682.40) scale(0.85,1)" font-size="7.2" fill="#000" stroke="#000" stroke-width="0.18" stroke-opacity="0.6">ZNF778</text>
<text transform="translate(279.90,691.70) scale(0.85,1)" font-size="7.2" fill="#000" stroke="#000" stroke-width="0.18" stroke-opacity="0.6">BCL2A1</text>
<text transform="translate(279.90,701.00) scale(0.85,1)" font-size="7.2" fill="#000" stroke="#000" stroke-width="0.18" stroke-opacity="0.6">PHF21A</text>
<text transform="translate(279.90,710.30) scale(0.85,1)" font-size="7.2" fill="#000" stroke="#000" stroke-width="0.18" stroke-opacity="0.6">PFKFB4</text>
<text transform="translate(279.90,719.60) scale(0.85,1)" font-size="7.2" fill="#000" stroke="#000" stroke-width="0.18" stroke-opacity="0.6">CLK1</text>
<text transform="translate(279.90,728.90) scale(0.85,1)" font-size="7.2" fill="#000" stroke="#000" stroke-width="0.18" stroke-opacity="0.6">HSPA1A</text>
<text transform="translate(279.90,738.20) scale(0.85,1)" font-size="7.2" fill="#000" stroke="#000" stroke-width="0.18" stroke-opacity="0.6">HOXA11</text>
<text transform="translate(279.90,747.50) scale(0.85,1)" font-size="7.2" fill="#000" stroke="#000" stroke-width="0.18" stroke-opacity="0.6">BHLHE40</text>
<text transform="translate(279.90,756.80) scale(0.85,1)" font-size="7.2" fill="#000" stroke="#000" stroke-width="0.18" stroke-opacity="0.6">C2orf49</text>
<text transform="translate(279.90,766.10) scale(0.85,1)" font-size="7.2" fill="#000" stroke="#000" stroke-width="0.18" stroke-opacity="0.6">ALDOC</text>
<text transform="translate(279.90,775.40) scale(0.85,1)" font-size="7.2" fill="#000" stroke="#000" stroke-width="0.18" stroke-opacity="0.6">SORL1</text>
<text transform="translate(279.90,784.70) scale(0.85,1)" font-size="7.2" fill="#000" stroke="#000" stroke-width="0.18" stroke-opacity="0.6">GLUL</text>
<text transform="translate(279.90,794.00) scale(0.85,1)" font-size="7.2" fill="#000" stroke="#000" stroke-width="0.18" stroke-opacity="0.6">GBE1</text>
<text transform="translate(279.90,803.30) scale(0.85,1)" font-size="7.2" fill="#000" stroke="#000" stroke-width="0.18" stroke-opacity="0.6">DDIT4</text>
<text transform="translate(279.90,812.60) scale(0.85,1)" font-size="7.2" fill="#000" stroke="#000" stroke-width="0.18" stroke-opacity="0.6">BNIP3</text>
<text transform="translate(279.90,821.90) scale(0.85,1)" font-size="7.2" fill="#000" stroke="#000" stroke-width="0.18" stroke-opacity="0.6">HSPA1B</text>
<text transform="translate(279.90,831.20) scale(0.85,1)" font-size="7.2" fill="#000" stroke="#000" stroke-width="0.18" stroke-opacity="0.6">SLC2A3</text>
<text transform="translate(49.15,834.50) rotate(90) scale(0.85,1)" font-size="7.0" fill="#000" stroke="#000" stroke-width="0.18" stroke-opacity="0.6">TR1</text>
<text transform="translate(113.65,834.50) rotate(90) scale(0.85,1)" font-size="7.0" fill="#000" stroke="#000" stroke-width="0.18" stroke-opacity="0.6">TR2</text>
<text transform="translate(178.15,834.50) rotate(90) scale(0.85,1)" font-size="7.0" fill="#000" stroke="#000" stroke-width="0.18" stroke-opacity="0.6">TNC1</text>
<text transform="translate(242.65,834.50) rotate(90) scale(0.85,1)" font-size="7.0" fill="#000" stroke="#000" stroke-width="0.18" stroke-opacity="0.6">TNC2</text>
<defs><linearGradient id="lg20" x1="0" y1="0" x2="0" y2="1"><stop offset="0" stop-color="#ff0000"/><stop offset="0.5" stop-color="#808000"/><stop offset="1" stop-color="#00ff00"/></linearGradient></defs>
<rect x="325.6" y="368" width="3" height="50.6" fill="url(#lg20)"/>
<text transform="translate(330.50,377.50) scale(0.85,1)" font-size="6.2" fill="#000" stroke="#000" stroke-width="0.18" stroke-opacity="0.6">1</text>
<text transform="translate(330.50,386.90) scale(0.85,1)" font-size="6.2" fill="#000" stroke="#000" stroke-width="0.18" stroke-opacity="0.6">0.5</text>
<text transform="translate(330.50,396.30) scale(0.85,1)" font-size="6.2" fill="#000" stroke="#000" stroke-width="0.18" stroke-opacity="0.6">0</text>
<text transform="translate(330.50,405.80) scale(0.85,1)" font-size="6.2" fill="#000" stroke="#000" stroke-width="0.18" stroke-opacity="0.6">-0.5</text>
<text transform="translate(330.50,415.20) scale(0.85,1)" font-size="6.2" fill="#000" stroke="#000" stroke-width="0.18" stroke-opacity="0.6">-1</text>
<path d="M52.2,368.1 V364.6 H116.8 V368.1 M181.2,368.1 V363.3 H245.8 V368.1 M84.5,364.6 V350.0 H213.5 V363.3" fill="none" stroke="#555" stroke-width="0.8"/>
<path d="M1.5,469.3 V640.6 M1.5,469.3 H13.3 M1.5,640.6 H12.3 M13.3,409.2 V529.7 M13.3,409.2 H17 M17,379.2 V439 M17,379.2 H18.6 M17,439 H18 M13.3,529.7 H16.8 M16.8,511.6 V548.4 M16.8,511.6 H18 M16.8,548.4 H18 M12.3,592.9 V688 M12.3,592.9 H17.3 M17.3,577.3 V607.7 M17.3,577.3 H18.5 M17.3,607.7 H18.3 M12.3,688 H15.5 M15.5,651 V725 M15.5,651 H18 M15.5,725 H17.5 M17.5,705 V790 M17.5,790 H18.4 M18.4,760 V822 M20.0,372.8 H19.0 M20.0,382.1 H19.0 M19.0,372.8 V382.1 M20.0,391.4 H18.2 M20.0,400.7 H18.2 M20.0,410.0 H18.2 M18.2,391.4 V410.0 M20.0,419.2 H19.0 M20.0,428.6 H19.0 M19.0,419.2 V428.6 M20.0,437.9 H18.2 M20.0,447.2 H18.2 M20.0,456.5 H18.2 M18.2,437.9 V456.5 M20.0,465.8 H18.2 M20.0,475.1 H18.2 M20.0,484.4 H18.2 M18.2,465.8 V484.4 M20.0,493.7 H19.0 M20.0,503.0 H19.0 M19.0,493.7 V503.0 M20.0,512.2 H18.2 M20.0,521.6 H18.2 M20.0,530.9 H18.2 M18.2,512.2 V530.9 M20.0,540.2 H19.0 M20.0,549.5 H19.0 M19.0,540.2 V549.5 M20.0,558.8 H19.0 M20.0,568.1 H19.0 M19.0,558.8 V568.1 M20.0,577.4 H18.2 M20.0,586.7 H18.2 M20.0,596.0 H18.2 M18.2,577.4 V596.0 M20.0,605.2 H18.2 M20.0,614.6 H18.2 M20.0,623.9 H18.2 M18.2,605.2 V623.9 M20.0,633.2 H19.0 M20.0,642.5 H19.0 M19.0,633.2 V642.5 M20.0,651.8 H18.2 M20.0,661.1 H18.2 M20.0,670.4 H18.2 M18.2,651.8 V670.4 M20.0,679.7 H18.2 M20.0,689.0 H18.2 M20.0,698.2 H18.2 M18.2,679.7 V698.2 M20.0,707.6 H19.0 M20.0,716.9 H19.0 M19.0,707.6 V716.9 M20.0,726.2 H18.2 M20.0,735.5 H18.2 M20.0,744.8 H18.2 M18.2,726.2 V744.8 M20.0,754.1 H18.2 M20.0,763.4 H18.2 M20.0,772.7 H18.2 M18.2,754.1 V772.7 M20.0,782.0 H18.2 M20.0,791.2 H18.2 M20.0,800.6 H18.2 M18.2,782.0 V800.6 M20.0,809.9 H18.2 M20.0,819.2 H18.2 M20.0,828.5 H18.2 M18.2,809.9 V828.5" fill="none" stroke="#666" stroke-width="0.7"/>
</g>
<g>
<text transform="translate(487.00,347.70) scale(0.99,1)" font-size="8.4" font-weight="bold" text-anchor="middle" fill="#1e1e1e" stroke="#1e1e1e" stroke-width="0.18" stroke-opacity="0.6">Significant Genes</text>
<rect x="362.10" y="368.10" width="62.77" height="9.60" fill="#996200"/>
<rect x="362.10" y="377.40" width="62.77" height="9.60" fill="#fa0500"/>
<rect x="362.10" y="386.70" width="62.77" height="9.60" fill="#f50a00"/>
<rect x="362.10" y="396.00" width="62.77" height="9.60" fill="#f20c00"/>
<rect x="362.10" y="405.30" width="62.77" height="9.60" fill="#f20c00"/>
<rect x="362.10" y="414.60" width="62.77" height="9.60" fill="#db2200"/>
<rect x="362.10" y="423.90" width="62.77" height="9.60" fill="#d92500"/>
<rect x="362.10" y="433.20" width="62.77" height="9.60" fill="#d92500"/>
<rect x="362.10" y="442.50" width="62.77" height="9.60" fill="#cf2f00"/>
<rect x="362.10" y="451.80" width="62.77" height="9.60" fill="#c93300"/>
<rect x="362.10" y="461.10" width="62.77" height="9.60" fill="#d42a00"/>
<rect x="362.10" y="470.40" width="62.77" height="9.60" fill="#e61800"/>
<rect x="362.10" y="479.70" width="62.77" height="9.60" fill="#e61800"/>
<rect x="362.10" y="489.00" width="62.77" height="9.60" fill="#de2000"/>
<rect x="362.10" y="498.30" width="62.77" height="9.60" fill="#e61800"/>
<rect x="362.10" y="507.60" width="62.77" height="9.60" fill="#de2000"/>
<rect x="362.10" y="516.90" width="62.77" height="9.60" fill="#d92500"/>
<rect x="362.10" y="526.20" width="62.77" height="9.60" fill="#de2000"/>
<rect x="362.10" y="535.50" width="62.77" height="9.60" fill="#47b000"/>
<rect x="362.10" y="544.80" width="62.77" height="9.60" fill="#14e100"/>
<rect x="362.10" y="554.10" width="62.77" height="9.60" fill="#40b800"/>
<rect x="362.10" y="563.40" width="62.77" height="9.60" fill="#30c600"/>
<rect x="362.10" y="572.70" width="62.77" height="9.60" fill="#29ce00"/>
<rect x="362.10" y="582.00" width="62.77" height="9.60" fill="#33c400"/>
<rect x="362.10" y="591.30" width="62.77" height="9.60" fill="#33c400"/>
<rect x="362.10" y="600.60" width="62.77" height="9.60" fill="#29ce00"/>
<rect x="362.10" y="609.90" width="62.77" height="9.60" fill="#29ce00"/>
<rect x="362.10" y="619.20" width="62.77" height="9.60" fill="#24d300"/>
<rect x="362.10" y="628.50" width="62.77" height="9.60" fill="#24d300"/>
<rect x="362.10" y="637.80" width="62.77" height="9.60" fill="#24d300"/>
<rect x="362.10" y="647.10" width="62.77" height="9.60" fill="#29ce00"/>
<rect x="362.10" y="656.40" width="62.77" height="9.60" fill="#42b500"/>
<rect x="362.10" y="665.70" width="62.77" height="9.60" fill="#2ec900"/>
<rect x="362.10" y="675.00" width="62.77" height="9.60" fill="#1cda00"/>
<rect x="362.10" y="684.30" width="62.77" height="9.60" fill="#21d500"/>
<rect x="362.10" y="693.60" width="62.77" height="9.60" fill="#1cda00"/>
<rect x="362.10" y="702.90" width="62.77" height="9.60" fill="#17df00"/>
<rect x="362.10" y="712.20" width="62.77" height="9.60" fill="#17df00"/>
<rect x="362.10" y="721.50" width="62.77" height="9.60" fill="#40b800"/>
<rect x="362.10" y="730.80" width="62.77" height="9.60" fill="#40b800"/>
<rect x="362.10" y="740.10" width="62.77" height="9.60" fill="#21d500"/>
<rect x="362.10" y="749.40" width="62.77" height="9.60" fill="#21d500"/>
<rect x="362.10" y="758.70" width="62.77" height="9.60" fill="#21d500"/>
<rect x="362.10" y="768.00" width="62.77" height="9.60" fill="#38bf00"/>
<rect x="362.10" y="777.30" width="62.77" height="9.60" fill="#29ce00"/>
<rect x="362.10" y="786.60" width="62.77" height="9.60" fill="#29ce00"/>
<rect x="362.10" y="795.90" width="62.77" height="9.60" fill="#29ce00"/>
<rect x="362.10" y="805.20" width="62.77" height="9.60" fill="#29ce00"/>
<rect x="362.10" y="814.50" width="62.77" height="9.60" fill="#29ce00"/>
<rect x="362.10" y="823.80" width="62.77" height="9.60" fill="#29ce00"/>
<rect x="424.57" y="368.10" width="62.77" height="9.60" fill="#fa0500"/>
<rect x="424.57" y="377.40" width="62.77" height="9.60" fill="#996200"/>
<rect x="424.57" y="386.70" width="62.77" height="9.60" fill="#9e5d00"/>
<rect x="424.57" y="396.00" width="62.77" height="9.60" fill="#a35800"/>
<rect x="424.57" y="405.30" width="62.77" height="9.60" fill="#a35800"/>
<rect x="424.57" y="414.60" width="62.77" height="9.60" fill="#d42a00"/>
<rect x="424.57" y="423.90" width="62.77" height="9.60" fill="#d42a00"/>
<rect x="424.57" y="433.20" width="62.77" height="9.60" fill="#d42a00"/>
<rect x="424.57" y="442.50" width="62.77" height="9.60" fill="#d42a00"/>
<rect x="424.57" y="451.80" width="62.77" height="9.60" fill="#d92500"/>
<rect x="424.57" y="461.10" width="62.77" height="9.60" fill="#cc3100"/>
<rect x="424.57" y="470.40" width="62.77" height="9.60" fill="#b24a00"/>
<rect x="424.57" y="479.70" width="62.77" height="9.60" fill="#bd4000"/>
<rect x="424.57" y="489.00" width="62.77" height="9.60" fill="#bd4000"/>
<rect x="424.57" y="498.30" width="62.77" height="9.60" fill="#c23b00"/>
<rect x="424.57" y="507.60" width="62.77" height="9.60" fill="#c73600"/>
<rect x="424.57" y="516.90" width="62.77" height="9.60" fill="#c73600"/>
<rect x="424.57" y="526.20" width="62.77" height="9.60" fill="#c73600"/>
<rect x="424.57" y="535.50" width="62.77" height="9.60" fill="#26d000"/>
<rect x="424.57" y="544.80" width="62.77" height="9.60" fill="#38bf00"/>
<rect x="424.57" y="554.10" width="62.77" height="9.60" fill="#1adc00"/>
<rect x="424.57" y="563.40" width="62.77" height="9.60" fill="#1fd800"/>
<rect x="424.57" y="572.70" width="62.77" height="9.60" fill="#33c400"/>
<rect x="424.57" y="582.00" width="62.77" height="9.60" fill="#29ce00"/>
<rect x="424.57" y="591.30" width="62.77" height="9.60" fill="#29ce00"/>
<rect x="424.57" y="600.60" width="62.77" height="9.60" fill="#2ec900"/>
<rect x="424.57" y="609.90" width="62.77" height="9.60" fill="#2ec900"/>
<rect x="424.57" y="619.20" width="62.77" height="9.60" fill="#38bf00"/>
<rect x="424.57" y="628.50" width="62.77" height="9.60" fill="#38bf00"/>
<rect x="424.57" y="637.80" width="62.77" height="9.60" fill="#38bf00"/>
<rect x="424.57" y="647.10" width="62.77" height="9.60" fill="#2ec900"/>
<rect x="424.57" y="656.40" width="62.77" height="9.60" fill="#14e100"/>
<rect x="424.57" y="665.70" width="62.77" height="9.60" fill="#24d300"/>
<rect x="424.57" y="675.00" width="62.77" height="9.60" fill="#38bf00"/>
<rect x="424.57" y="684.30" width="62.77" height="9.60" fill="#38bf00"/>
<rect x="424.57" y="693.60" width="62.77" height="9.60" fill="#33c400"/>
<rect x="424.57" y="702.90" width="62.77" height="9.60" fill="#33c400"/>
<rect x="424.57" y="712.20" width="62.77" height="9.60" fill="#38bf00"/>
<rect x="424.57" y="721.50" width="62.77" height="9.60" fill="#42b500"/>
<rect x="424.57" y="730.80" width="62.77" height="9.60" fill="#47b000"/>
<rect x="424.57" y="740.10" width="62.77" height="9.60" fill="#42b500"/>
<rect x="424.57" y="749.40" width="62.77" height="9.60" fill="#33c400"/>
<rect x="424.57" y="758.70" width="62.77" height="9.60" fill="#33c400"/>
<rect x="424.57" y="768.00" width="62.77" height="9.60" fill="#33c400"/>
<rect x="424.57" y="777.30" width="62.77" height="9.60" fill="#30c600"/>
<rect x="424.57" y="786.60" width="62.77" height="9.60" fill="#30c600"/>
<rect x="424.57" y="795.90" width="62.77" height="9.60" fill="#2ec900"/>
<rect x="424.57" y="805.20" width="62.77" height="9.60" fill="#2ec900"/>
<rect x="424.57" y="814.50" width="62.77" height="9.60" fill="#2ec900"/>
<rect x="424.57" y="823.80" width="62.77" height="9.60" fill="#2ec900"/>
<rect x="487.04" y="368.10" width="62.77" height="9.60" fill="#2ec900"/>
<rect x="487.04" y="377.40" width="62.77" height="9.60" fill="#24d300"/>
<rect x="487.04" y="386.70" width="62.77" height="9.60" fill="#24d300"/>
<rect x="487.04" y="396.00" width="62.77" height="9.60" fill="#24d300"/>
<rect x="487.04" y="405.30" width="62.77" height="9.60" fill="#24d300"/>
<rect x="487.04" y="414.60" width="62.77" height="9.60" fill="#24d300"/>
<rect x="487.04" y="423.90" width="62.77" height="9.60" fill="#29ce00"/>
<rect x="487.04" y="433.20" width="62.77" height="9.60" fill="#29ce00"/>
<rect x="487.04" y="442.50" width="62.77" height="9.60" fill="#26d000"/>
<rect x="487.04" y="451.80" width="62.77" height="9.60" fill="#1adc00"/>
<rect x="487.04" y="461.10" width="62.77" height="9.60" fill="#1fd800"/>
<rect x="487.04" y="470.40" width="62.77" height="9.60" fill="#24d300"/>
<rect x="487.04" y="479.70" width="62.77" height="9.60" fill="#24d300"/>
<rect x="487.04" y="489.00" width="62.77" height="9.60" fill="#24d300"/>
<rect x="487.04" y="498.30" width="62.77" height="9.60" fill="#24d300"/>
<rect x="487.04" y="507.60" width="62.77" height="9.60" fill="#17df00"/>
<rect x="487.04" y="516.90" width="62.77" height="9.60" fill="#1fd800"/>
<rect x="487.04" y="526.20" width="62.77" height="9.60" fill="#1fd800"/>
<rect x="487.04" y="535.50" width="62.77" height="9.60" fill="#996200"/>
<rect x="487.04" y="544.80" width="62.77" height="9.60" fill="#c23b00"/>
<rect x="487.04" y="554.10" width="62.77" height="9.60" fill="#cc3100"/>
<rect x="487.04" y="563.40" width="62.77" height="9.60" fill="#cc3100"/>
<rect x="487.04" y="572.70" width="62.77" height="9.60" fill="#ba4200"/>
<rect x="487.04" y="582.00" width="62.77" height="9.60" fill="#e61800"/>
<rect x="487.04" y="591.30" width="62.77" height="9.60" fill="#e61800"/>
<rect x="487.04" y="600.60" width="62.77" height="9.60" fill="#f20c00"/>
<rect x="487.04" y="609.90" width="62.77" height="9.60" fill="#e01d00"/>
<rect x="487.04" y="619.20" width="62.77" height="9.60" fill="#f20c00"/>
<rect x="487.04" y="628.50" width="62.77" height="9.60" fill="#e61800"/>
<rect x="487.04" y="637.80" width="62.77" height="9.60" fill="#e01d00"/>
<rect x="487.04" y="647.10" width="62.77" height="9.60" fill="#e31b00"/>
<rect x="487.04" y="656.40" width="62.77" height="9.60" fill="#de2000"/>
<rect x="487.04" y="665.70" width="62.77" height="9.60" fill="#d12c00"/>
<rect x="487.04" y="675.00" width="62.77" height="9.60" fill="#de2000"/>
<rect x="487.04" y="684.30" width="62.77" height="9.60" fill="#cf2f00"/>
<rect x="487.04" y="693.60" width="62.77" height="9.60" fill="#cf2f00"/>
<rect x="487.04" y="702.90" width="62.77" height="9.60" fill="#cf2f00"/>
<rect x="487.04" y="712.20" width="62.77" height="9.60" fill="#cf2f00"/>
<rect x="487.04" y="721.50" width="62.77" height="9.60" fill="#ff0000"/>
<rect x="487.04" y="730.80" width="62.77" height="9.60" fill="#fc0200"/>
<rect x="487.04" y="740.10" width="62.77" height="9.60" fill="#ed1100"/>
<rect x="487.04" y="749.40" width="62.77" height="9.60" fill="#f20c00"/>
<rect x="487.04" y="758.70" width="62.77" height="9.60" fill="#fa0500"/>
<rect x="487.04" y="768.00" width="62.77" height="9.60" fill="#fa0500"/>
<rect x="487.04" y="777.30" width="62.77" height="9.60" fill="#fa0500"/>
<rect x="487.04" y="786.60" width="62.77" height="9.60" fill="#f50a00"/>
<rect x="487.04" y="795.90" width="62.77" height="9.60" fill="#f50a00"/>
<rect x="487.04" y="805.20" width="62.77" height="9.60" fill="#f50a00"/>
<rect x="487.04" y="814.50" width="62.77" height="9.60" fill="#f50a00"/>
<rect x="487.04" y="823.80" width="62.77" height="9.60" fill="#f50a00"/>
<rect x="549.51" y="368.10" width="62.77" height="9.60" fill="#33c400"/>
<rect x="549.51" y="377.40" width="62.77" height="9.60" fill="#38bf00"/>
<rect x="549.51" y="386.70" width="62.77" height="9.60" fill="#38bf00"/>
<rect x="549.51" y="396.00" width="62.77" height="9.60" fill="#3dba00"/>
<rect x="549.51" y="405.30" width="62.77" height="9.60" fill="#3dba00"/>
<rect x="549.51" y="414.60" width="62.77" height="9.60" fill="#2ec900"/>
<rect x="549.51" y="423.90" width="62.77" height="9.60" fill="#1fd800"/>
<rect x="549.51" y="433.20" width="62.77" height="9.60" fill="#29ce00"/>
<rect x="549.51" y="442.50" width="62.77" height="9.60" fill="#29ce00"/>
<rect x="549.51" y="451.80" width="62.77" height="9.60" fill="#38bf00"/>
<rect x="549.51" y="461.10" width="62.77" height="9.60" fill="#38bf00"/>
<rect x="549.51" y="470.40" width="62.77" height="9.60" fill="#47b000"/>
<rect x="549.51" y="479.70" width="62.77" height="9.60" fill="#38bf00"/>
<rect x="549.51" y="489.00" width="62.77" height="9.60" fill="#38bf00"/>
<rect x="549.51" y="498.30" width="62.77" height="9.60" fill="#38bf00"/>
<rect x="549.51" y="507.60" width="62.77" height="9.60" fill="#4cac00"/>
<rect x="549.51" y="516.90" width="62.77" height="9.60" fill="#47b000"/>
<rect x="549.51" y="526.20" width="62.77" height="9.60" fill="#45b300"/>
<rect x="549.51" y="535.50" width="62.77" height="9.60" fill="#f70700"/>
<rect x="549.51" y="544.80" width="62.77" height="9.60" fill="#d92500"/>
<rect x="549.51" y="554.10" width="62.77" height="9.60" fill="#db2200"/>
<rect x="549.51" y="563.40" width="62.77" height="9.60" fill="#db2200"/>
<rect x="549.51" y="572.70" width="62.77" height="9.60" fill="#e31b00"/>
<rect x="549.51" y="582.00" width="62.77" height="9.60" fill="#b24a00"/>
<rect x="549.51" y="591.30" width="62.77" height="9.60" fill="#b84500"/>
<rect x="549.51" y="600.60" width="62.77" height="9.60" fill="#b84500"/>
<rect x="549.51" y="609.90" width="62.77" height="9.60" fill="#b04c00"/>
<rect x="549.51" y="619.20" width="62.77" height="9.60" fill="#b04c00"/>
<rect x="549.51" y="628.50" width="62.77" height="9.60" fill="#b24a00"/>
<rect x="549.51" y="637.80" width="62.77" height="9.60" fill="#b84500"/>
<rect x="549.51" y="647.10" width="62.77" height="9.60" fill="#b84500"/>
<rect x="549.51" y="656.40" width="62.77" height="9.60" fill="#c23b00"/>
<rect x="549.51" y="665.70" width="62.77" height="9.60" fill="#c93300"/>
<rect x="549.51" y="675.00" width="62.77" height="9.60" fill="#b84500"/>
<rect x="549.51" y="684.30" width="62.77" height="9.60" fill="#c93300"/>
<rect x="549.51" y="693.60" width="62.77" height="9.60" fill="#cf2f00"/>
<rect x="549.51" y="702.90" width="62.77" height="9.60" fill="#cf2f00"/>
<rect x="549.51" y="712.20" width="62.77" height="9.60" fill="#c93300"/>
<rect x="549.51" y="721.50" width="62.77" height="9.60" fill="#807a00"/>
<rect x="549.51" y="730.80" width="62.77" height="9.60" fill="#7d7d00"/>
<rect x="549.51" y="740.10" width="62.77" height="9.60" fill="#a15b00"/>
<rect x="549.51" y="749.40" width="62.77" height="9.60" fill="#a15b00"/>
<rect x="549.51" y="758.70" width="62.77" height="9.60" fill="#a15b00"/>
<rect x="549.51" y="768.00" width="62.77" height="9.60" fill="#a15b00"/>
<rect x="549.51" y="777.30" width="62.77" height="9.60" fill="#8a7100"/>
<rect x="549.51" y="786.60" width="62.77" height="9.60" fill="#8f6c00"/>
<rect x="549.51" y="795.90" width="62.77" height="9.60" fill="#8a7100"/>
<rect x="549.51" y="805.20" width="62.77" height="9.60" fill="#966400"/>
<rect x="549.51" y="814.50" width="62.77" height="9.60" fill="#996200"/>
<rect x="549.51" y="823.80" width="62.77" height="9.60" fill="#996200"/>
<line x1="362.1" y1="377.40" x2="611.98" y2="377.40" stroke="#9a9a9a" stroke-width="0.55" stroke-opacity="0.85"/>
<line x1="362.1" y1="386.70" x2="611.98" y2="386.70" stroke="#9a9a9a" stroke-width="0.55" stroke-opacity="0.85"/>
<line x1="362.1" y1="396.00" x2="611.98" y2="396.00" stroke="#9a9a9a" stroke-width="0.55" stroke-opacity="0.85"/>
<line x1="362.1" y1="405.30" x2="611.98" y2="405.30" stroke="#9a9a9a" stroke-width="0.55" stroke-opacity="0.85"/>
<line x1="362.1" y1="414.60" x2="611.98" y2="414.60" stroke="#9a9a9a" stroke-width="0.55" stroke-opacity="0.85"/>
<line x1="362.1" y1="423.90" x2="611.98" y2="423.90" stroke="#9a9a9a" stroke-width="0.55" stroke-opacity="0.85"/>
<line x1="362.1" y1="433.20" x2="611.98" y2="433.20" stroke="#9a9a9a" stroke-width="0.55" stroke-opacity="0.85"/>
<line x1="362.1" y1="442.50" x2="611.98" y2="442.50" stroke="#9a9a9a" stroke-width="0.55" stroke-opacity="0.85"/>
<line x1="362.1" y1="451.80" x2="611.98" y2="451.80" stroke="#9a9a9a" stroke-width="0.55" stroke-opacity="0.85"/>
<line x1="362.1" y1="461.10" x2="611.98" y2="461.10" stroke="#9a9a9a" stroke-width="0.55" stroke-opacity="0.85"/>
<line x1="362.1" y1="470.40" x2="611.98" y2="470.40" stroke="#9a9a9a" stroke-width="0.55" stroke-opacity="0.85"/>
<line x1="362.1" y1="479.70" x2="611.98" y2="479.70" stroke="#9a9a9a" stroke-width="0.55" stroke-opacity="0.85"/>
<line x1="362.1" y1="489.00" x2="611.98" y2="489.00" stroke="#9a9a9a" stroke-width="0.55" stroke-opacity="0.85"/>
<line x1="362.1" y1="498.30" x2="611.98" y2="498.30" stroke="#9a9a9a" stroke-width="0.55" stroke-opacity="0.85"/>
<line x1="362.1" y1="507.60" x2="611.98" y2="507.60" stroke="#9a9a9a" stroke-width="0.55" stroke-opacity="0.85"/>
<line x1="362.1" y1="516.90" x2="611.98" y2="516.90" stroke="#9a9a9a" stroke-width="0.55" stroke-opacity="0.85"/>
<line x1="362.1" y1="526.20" x2="611.98" y2="526.20" stroke="#9a9a9a" stroke-width="0.55" stroke-opacity="0.85"/>
<line x1="362.1" y1="535.50" x2="611.98" y2="535.50" stroke="#9a9a9a" stroke-width="0.55" stroke-opacity="0.85"/>
<line x1="362.1" y1="544.80" x2="611.98" y2="544.80" stroke="#9a9a9a" stroke-width="0.55" stroke-opacity="0.85"/>
<line x1="362.1" y1="554.10" x2="611.98" y2="554.10" stroke="#9a9a9a" stroke-width="0.55" stroke-opacity="0.85"/>
<line x1="362.1" y1="563.40" x2="611.98" y2="563.40" stroke="#9a9a9a" stroke-width="0.55" stroke-opacity="0.85"/>
<line x1="362.1" y1="572.70" x2="611.98" y2="572.70" stroke="#9a9a9a" stroke-width="0.55" stroke-opacity="0.85"/>
<line x1="362.1" y1="582.00" x2="611.98" y2="582.00" stroke="#9a9a9a" stroke-width="0.55" stroke-opacity="0.85"/>
<line x1="362.1" y1="591.30" x2="611.98" y2="591.30" stroke="#9a9a9a" stroke-width="0.55" stroke-opacity="0.85"/>
<line x1="362.1" y1="600.60" x2="611.98" y2="600.60" stroke="#9a9a9a" stroke-width="0.55" stroke-opacity="0.85"/>
<line x1="362.1" y1="609.90" x2="611.98" y2="609.90" stroke="#9a9a9a" stroke-width="0.55" stroke-opacity="0.85"/>
<line x1="362.1" y1="619.20" x2="611.98" y2="619.20" stroke="#9a9a9a" stroke-width="0.55" stroke-opacity="0.85"/>
<line x1="362.1" y1="628.50" x2="611.98" y2="628.50" stroke="#9a9a9a" stroke-width="0.55" stroke-opacity="0.85"/>
<line x1="362.1" y1="637.80" x2="611.98" y2="637.80" stroke="#9a9a9a" stroke-width="0.55" stroke-opacity="0.85"/>
<line x1="362.1" y1="647.10" x2="611.98" y2="647.10" stroke="#9a9a9a" stroke-width="0.55" stroke-opacity="0.85"/>
<line x1="362.1" y1="656.40" x2="611.98" y2="656.40" stroke="#9a9a9a" stroke-width="0.55" stroke-opacity="0.85"/>
<line x1="362.1" y1="665.70" x2="611.98" y2="665.70" stroke="#9a9a9a" stroke-width="0.55" stroke-opacity="0.85"/>
<line x1="362.1" y1="675.00" x2="611.98" y2="675.00" stroke="#9a9a9a" stroke-width="0.55" stroke-opacity="0.85"/>
<line x1="362.1" y1="684.30" x2="611.98" y2="684.30" stroke="#9a9a9a" stroke-width="0.55" stroke-opacity="0.85"/>
<line x1="362.1" y1="693.60" x2="611.98" y2="693.60" stroke="#9a9a9a" stroke-width="0.55" stroke-opacity="0.85"/>
<line x1="362.1" y1="702.90" x2="611.98" y2="702.90" stroke="#9a9a9a" stroke-width="0.55" stroke-opacity="0.85"/>
<line x1="362.1" y1="712.20" x2="611.98" y2="712.20" stroke="#9a9a9a" stroke-width="0.55" stroke-opacity="0.85"/>
<line x1="362.1" y1="721.50" x2="611.98" y2="721.50" stroke="#9a9a9a" stroke-width="0.55" stroke-opacity="0.85"/>
<line x1="362.1" y1="730.80" x2="611.98" y2="730.80" stroke="#9a9a9a" stroke-width="0.55" stroke-opacity="0.85"/>
<line x1="362.1" y1="740.10" x2="611.98" y2="740.10" stroke="#9a9a9a" stroke-width="0.55" stroke-opacity="0.85"/>
<line x1="362.1" y1="749.40" x2="611.98" y2="749.40" stroke="#9a9a9a" stroke-width="0.55" stroke-opacity="0.85"/>
<line x1="362.1" y1="758.70" x2="611.98" y2="758.70" stroke="#9a9a9a" stroke-width="0.55" stroke-opacity="0.85"/>
<line x1="362.1" y1="768.00" x2="611.98" y2="768.00" stroke="#9a9a9a" stroke-width="0.55" stroke-opacity="0.85"/>
<line x1="362.1" y1="777.30" x2="611.98" y2="777.30" stroke="#9a9a9a" stroke-width="0.55" stroke-opacity="0.85"/>
<line x1="362.1" y1="786.60" x2="611.98" y2="786.60" stroke="#9a9a9a" stroke-width="0.55" stroke-opacity="0.85"/>
<line x1="362.1" y1="795.90" x2="611.98" y2="795.90" stroke="#9a9a9a" stroke-width="0.55" stroke-opacity="0.85"/>
<line x1="362.1" y1="805.20" x2="611.98" y2="805.20" stroke="#9a9a9a" stroke-width="0.55" stroke-opacity="0.85"/>
<line x1="362.1" y1="814.50" x2="611.98" y2="814.50" stroke="#9a9a9a" stroke-width="0.55" stroke-opacity="0.85"/>
<line x1="362.1" y1="823.80" x2="611.98" y2="823.80" stroke="#9a9a9a" stroke-width="0.55" stroke-opacity="0.85"/>
<line x1="424.57" y1="368.1" x2="424.57" y2="833.10" stroke="#9a9a9a" stroke-width="0.55" stroke-opacity="0.85"/>
<line x1="487.04" y1="368.1" x2="487.04" y2="833.10" stroke="#9a9a9a" stroke-width="0.55" stroke-opacity="0.85"/>
<line x1="549.51" y1="368.1" x2="549.51" y2="833.10" stroke="#9a9a9a" stroke-width="0.55" stroke-opacity="0.85"/>
<text transform="translate(613.50,375.50) scale(0.85,1)" font-size="7.2" fill="#000" stroke="#000" stroke-width="0.18" stroke-opacity="0.6">CFAP298-TCP10L</text>
<text transform="translate(613.50,384.80) scale(0.85,1)" font-size="7.2" fill="#000" stroke="#000" stroke-width="0.18" stroke-opacity="0.6">CYTB</text>
<text transform="translate(613.50,394.10) scale(0.85,1)" font-size="7.2" fill="#000" stroke="#000" stroke-width="0.18" stroke-opacity="0.6">BGLT3</text>
<text transform="translate(613.50,403.40) scale(0.85,1)" font-size="7.2" fill="#000" stroke="#000" stroke-width="0.18" stroke-opacity="0.6">LINC01694</text>
<text transform="translate(613.50,412.70) scale(0.85,1)" font-size="7.2" fill="#000" stroke="#000" stroke-width="0.18" stroke-opacity="0.6">TRMT1</text>
<text transform="translate(613.50,422.00) scale(0.85,1)" font-size="7.2" fill="#000" stroke="#000" stroke-width="0.18" stroke-opacity="0.6">EGR1</text>
<text transform="translate(613.50,431.30) scale(0.85,1)" font-size="7.2" fill="#000" stroke="#000" stroke-width="0.18" stroke-opacity="0.6">PPP1R10</text>
<text transform="translate(613.50,440.60) scale(0.85,1)" font-size="7.2" fill="#000" stroke="#000" stroke-width="0.18" stroke-opacity="0.6">ADNP</text>
<text transform="translate(613.50,449.90) scale(0.85,1)" font-size="7.2" fill="#000" stroke="#000" stroke-width="0.18" stroke-opacity="0.6">SLC35C1</text>
<text transform="translate(613.50,459.20) scale(0.85,1)" font-size="7.2" fill="#000" stroke="#000" stroke-width="0.18" stroke-opacity="0.6">FOS</text>
<text transform="translate(613.50,468.50) scale(0.85,1)" font-size="7.2" fill="#000" stroke="#000" stroke-width="0.18" stroke-opacity="0.6">ALMS1</text>
<text transform="translate(613.50,477.80) scale(0.85,1)" font-size="7.2" fill="#000" stroke="#000" stroke-width="0.18" stroke-opacity="0.6">MRM1</text>
<text transform="translate(613.50,487.10) scale(0.85,1)" font-size="7.2" fill="#000" stroke="#000" stroke-width="0.18" stroke-opacity="0.6">ID1</text>
<text transform="translate(613.50,496.40) scale(0.85,1)" font-size="7.2" fill="#000" stroke="#000" stroke-width="0.18" stroke-opacity="0.6">MIR223HG</text>
<text transform="translate(613.50,505.70) scale(0.85,1)" font-size="7.2" fill="#000" stroke="#000" stroke-width="0.18" stroke-opacity="0.6">ZNF195</text>
<text transform="translate(613.50,515.00) scale(0.85,1)" font-size="7.2" fill="#000" stroke="#000" stroke-width="0.18" stroke-opacity="0.6">LOC102724908</text>
<text transform="translate(613.50,524.30) scale(0.85,1)" font-size="7.2" fill="#000" stroke="#000" stroke-width="0.18" stroke-opacity="0.6">FOSL1</text>
<text transform="translate(613.50,533.60) scale(0.85,1)" font-size="7.2" fill="#000" stroke="#000" stroke-width="0.18" stroke-opacity="0.6">NCOA6</text>
<text transform="translate(613.50,542.90) scale(0.85,1)" font-size="7.2" fill="#000" stroke="#000" stroke-width="0.18" stroke-opacity="0.6">NFKBIA</text>
<text transform="translate(613.50,552.20) scale(0.85,1)" font-size="7.2" fill="#000" stroke="#000" stroke-width="0.18" stroke-opacity="0.6">PER1</text>
<text transform="translate(613.50,561.50) scale(0.85,1)" font-size="7.2" fill="#000" stroke="#000" stroke-width="0.18" stroke-opacity="0.6">CHD6</text>
<text transform="translate(613.50,570.80) scale(0.85,1)" font-size="7.2" fill="#000" stroke="#000" stroke-width="0.18" stroke-opacity="0.6">PNCK</text>
<text transform="translate(613.50,580.10) scale(0.85,1)" font-size="7.2" fill="#000" stroke="#000" stroke-width="0.18" stroke-opacity="0.6">ECT2</text>
<text transform="translate(613.50,589.40) scale(0.85,1)" font-size="7.2" fill="#000" stroke="#000" stroke-width="0.18" stroke-opacity="0.6">KDM7A</text>
<text transform="translate(613.50,598.70) scale(0.85,1)" font-size="7.2" fill="#000" stroke="#000" stroke-width="0.18" stroke-opacity="0.6">SYNJ1</text>
<text transform="translate(613.50,608.00) scale(0.85,1)" font-size="7.2" fill="#000" stroke="#000" stroke-width="0.18" stroke-opacity="0.6">CDKN1C</text>
<text transform="translate(613.50,617.30) scale(0.85,1)" font-size="7.2" fill="#000" stroke="#000" stroke-width="0.18" stroke-opacity="0.6">MED13L</text>
<text transform="translate(613.50,626.60) scale(0.85,1)" font-size="7.2" fill="#000" stroke="#000" stroke-width="0.18" stroke-opacity="0.6">FGD6</text>
<text transform="translate(613.50,635.90) scale(0.85,1)" font-size="7.2" fill="#000" stroke="#000" stroke-width="0.18" stroke-opacity="0.6">ARID4B</text>
<text transform="translate(613.50,645.20) scale(0.85,1)" font-size="7.2" fill="#000" stroke="#000" stroke-width="0.18" stroke-opacity="0.6">XRN1</text>
<text transform="translate(613.50,654.50) scale(0.85,1)" font-size="7.2" fill="#000" stroke="#000" stroke-width="0.18" stroke-opacity="0.6">TFRC</text>
<text transform="translate(613.50,663.80) scale(0.85,1)" font-size="7.2" fill="#000" stroke="#000" stroke-width="0.18" stroke-opacity="0.6">SLC6A8</text>
<text transform="translate(613.50,673.10) scale(0.85,1)" font-size="7.2" fill="#000" stroke="#000" stroke-width="0.18" stroke-opacity="0.6">OPTN</text>
<text transform="translate(613.50,682.40) scale(0.85,1)" font-size="7.2" fill="#000" stroke="#000" stroke-width="0.18" stroke-opacity="0.6">ATG13</text>
<text transform="translate(613.50,691.70) scale(0.85,1)" font-size="7.2" fill="#000" stroke="#000" stroke-width="0.18" stroke-opacity="0.6">MON2</text>
<text transform="translate(613.50,701.00) scale(0.85,1)" font-size="7.2" fill="#000" stroke="#000" stroke-width="0.18" stroke-opacity="0.6">LGR4</text>
<text transform="translate(613.50,710.30) scale(0.85,1)" font-size="7.2" fill="#000" stroke="#000" stroke-width="0.18" stroke-opacity="0.6">FBXL20</text>
<text transform="translate(613.50,719.60) scale(0.85,1)" font-size="7.2" fill="#000" stroke="#000" stroke-width="0.18" stroke-opacity="0.6">RGPD2</text>
<text transform="translate(613.50,728.90) scale(0.85,1)" font-size="7.2" fill="#000" stroke="#000" stroke-width="0.18" stroke-opacity="0.6">P4HA1</text>
<text transform="translate(613.50,738.20) scale(0.85,1)" font-size="7.2" fill="#000" stroke="#000" stroke-width="0.18" stroke-opacity="0.6">CREB5</text>
<text transform="translate(613.50,747.50) scale(0.85,1)" font-size="7.2" fill="#000" stroke="#000" stroke-width="0.18" stroke-opacity="0.6">MXD1</text>
<text transform="translate(613.50,756.80) scale(0.85,1)" font-size="7.2" fill="#000" stroke="#000" stroke-width="0.18" stroke-opacity="0.6">FNIP1</text>
<text transform="translate(613.50,766.10) scale(0.85,1)" font-size="7.2" fill="#000" stroke="#000" stroke-width="0.18" stroke-opacity="0.6">STARD4</text>
<text transform="translate(613.50,775.40) scale(0.85,1)" font-size="7.2" fill="#000" stroke="#000" stroke-width="0.18" stroke-opacity="0.6">KLHL24</text>
<text transform="translate(613.50,784.70) scale(0.85,1)" font-size="7.2" fill="#000" stroke="#000" stroke-width="0.18" stroke-opacity="0.6">FLCN</text>
<text transform="translate(613.50,794.00) scale(0.85,1)" font-size="7.2" fill="#000" stroke="#000" stroke-width="0.18" stroke-opacity="0.6">BRAF</text>
<text transform="translate(613.50,803.30) scale(0.85,1)" font-size="7.2" fill="#000" stroke="#000" stroke-width="0.18" stroke-opacity="0.6">GPI</text>
<text transform="translate(613.50,812.60) scale(0.85,1)" font-size="7.2" fill="#000" stroke="#000" stroke-width="0.18" stroke-opacity="0.6">ADAM10</text>
<text transform="translate(613.50,821.90) scale(0.85,1)" font-size="7.2" fill="#000" stroke="#000" stroke-width="0.18" stroke-opacity="0.6">HELZ</text>
<text transform="translate(613.50,831.20) scale(0.85,1)" font-size="7.2" fill="#000" stroke="#000" stroke-width="0.18" stroke-opacity="0.6">ALDOC</text>
<text transform="translate(390.24,834.50) rotate(90) scale(0.85,1)" font-size="7.0" fill="#000" stroke="#000" stroke-width="0.18" stroke-opacity="0.6">KNC1</text>
<text transform="translate(452.71,834.50) rotate(90) scale(0.85,1)" font-size="7.0" fill="#000" stroke="#000" stroke-width="0.18" stroke-opacity="0.6">KNC2</text>
<text transform="translate(515.17,834.50) rotate(90) scale(0.85,1)" font-size="7.0" fill="#000" stroke="#000" stroke-width="0.18" stroke-opacity="0.6">KR1</text>
<text transform="translate(577.64,834.50) rotate(90) scale(0.85,1)" font-size="7.0" fill="#000" stroke="#000" stroke-width="0.18" stroke-opacity="0.6">KR2</text>
<defs><linearGradient id="lg362" x1="0" y1="0" x2="0" y2="1"><stop offset="0" stop-color="#ff0000"/><stop offset="0.5" stop-color="#808000"/><stop offset="1" stop-color="#00ff00"/></linearGradient></defs>
<rect x="667" y="368" width="3" height="50.6" fill="url(#lg362)"/>
<text transform="translate(671.90,377.50) scale(0.85,1)" font-size="6.2" fill="#000" stroke="#000" stroke-width="0.18" stroke-opacity="0.6">1</text>
<text transform="translate(671.90,386.90) scale(0.85,1)" font-size="6.2" fill="#000" stroke="#000" stroke-width="0.18" stroke-opacity="0.6">0.5</text>
<text transform="translate(671.90,396.30) scale(0.85,1)" font-size="6.2" fill="#000" stroke="#000" stroke-width="0.18" stroke-opacity="0.6">0</text>
<text transform="translate(671.90,405.80) scale(0.85,1)" font-size="6.2" fill="#000" stroke="#000" stroke-width="0.18" stroke-opacity="0.6">-0.5</text>
<text transform="translate(671.90,415.20) scale(0.85,1)" font-size="6.2" fill="#000" stroke="#000" stroke-width="0.18" stroke-opacity="0.6">-1</text>
<path d="M393.3,368.1 V364.8 H455.8 V368.1 M518.3,368.1 V362.4 H580.7 V368.1 M424.6,364.8 V350.3 H549.5 V362.4" fill="none" stroke="#555" stroke-width="0.8"/>
<path d="M343.6,401.4 V622.7 M343.6,401.4 H354.5 M343.6,622.7 H351.2 M354.5,372.3 V430.6 M354.5,372.3 H362.1 M354.5,430.6 H357.4 M357.4,390.4 V470.7 M357.4,390.4 H359.5 M357.4,470.7 H359 M359,450 V520 M359.5,380 V405 M351.2,548 V698 M351.2,548 H357 M357,540 V557.7 M357,540 H359 M357,557.7 H359.5 M351.2,698 H355.3 M355.3,646.8 V750 M355.3,646.8 H358.5 M355.3,750 H357.5 M357.5,720 V800 M358.5,620 V680 M358.2,570 V610 M362.1,382.1 H361.1 M362.1,391.4 H361.1 M361.1,382.1 V391.4 M362.1,400.7 H360.3 M362.1,410.0 H360.3 M362.1,419.2 H360.3 M360.3,400.7 V419.2 M362.1,428.6 H361.1 M362.1,437.9 H361.1 M361.1,428.6 V437.9 M362.1,447.2 H360.3 M362.1,456.5 H360.3 M362.1,465.8 H360.3 M360.3,447.2 V465.8 M362.1,475.1 H360.3 M362.1,484.4 H360.3 M362.1,493.7 H360.3 M360.3,475.1 V493.7 M362.1,503.0 H361.1 M362.1,512.2 H361.1 M361.1,503.0 V512.2 M362.1,521.6 H361.1 M362.1,530.9 H361.1 M361.1,521.6 V530.9 M362.1,540.2 H360.3 M362.1,549.5 H360.3 M362.1,558.8 H360.3 M360.3,540.2 V558.8 M362.1,568.1 H361.1 M362.1,577.4 H361.1 M361.1,568.1 V577.4 M362.1,586.7 H360.3 M362.1,596.0 H360.3 M362.1,605.2 H360.3 M360.3,586.7 V605.2 M362.1,614.6 H361.1 M362.1,623.9 H361.1 M361.1,614.6 V623.9 M362.1,633.2 H360.3 M362.1,642.5 H360.3 M362.1,651.8 H360.3 M360.3,633.2 V651.8 M362.1,661.1 H360.3 M362.1,670.4 H360.3 M362.1,679.7 H360.3 M360.3,661.1 V679.7 M362.1,689.0 H361.1 M362.1,698.2 H361.1 M361.1,689.0 V698.2 M362.1,707.6 H361.1 M362.1,716.9 H361.1 M361.1,707.6 V716.9 M362.1,726.2 H361.1 M362.1,735.5 H361.1 M361.1,726.2 V735.5 M362.1,744.8 H360.3 M362.1,754.1 H360.3 M362.1,763.4 H360.3 M360.3,744.8 V763.4 M362.1,772.7 H360.3 M362.1,782.0 H360.3 M362.1,791.2 H360.3 M360.3,772.7 V791.2 M362.1,800.6 H361.1 M362.1,809.9 H361.1 M361.1,800.6 V809.9 M362.1,819.2 H361.1 M362.1,828.5 H361.1 M361.1,819.2 V828.5" fill="none" stroke="#666" stroke-width="0.7"/>
</g>
</svg></body></html>
